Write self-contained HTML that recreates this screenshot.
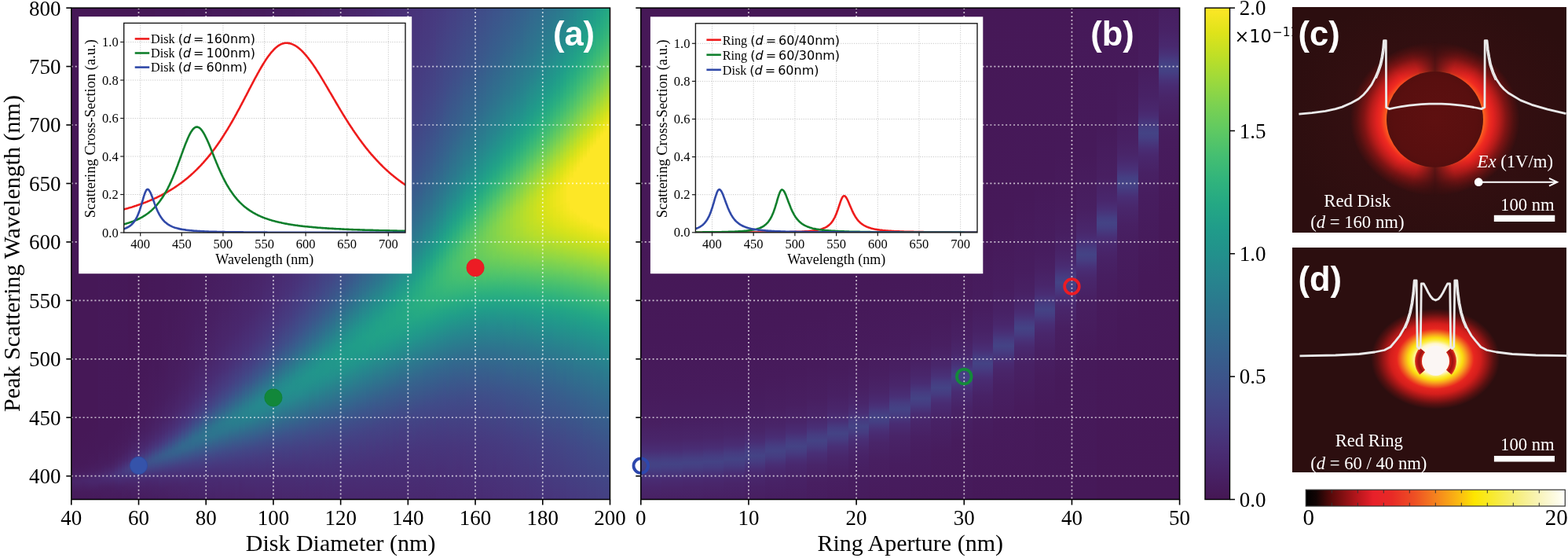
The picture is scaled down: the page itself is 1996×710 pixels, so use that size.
<!DOCTYPE html>
<html><head><meta charset="utf-8"><style>
html,body{margin:0;padding:0;background:#fff;}
#root{position:relative;width:1996px;height:710px;overflow:hidden;background:#fff;}
.hm{position:absolute;left:0;width:1996px;}
.hm div{position:absolute;top:0;height:100%;}
</style></head><body><div id="root">
<div class="hm" style="top:10.1px;height:625.4px"><div style="left:90.80px;width:4.86px;background:linear-gradient(#461857 0.00%,#461857 87.62%,#461a5a 93.33%,#471d5f 94.76%,#492569 96.43%,#471c5d 98.57%,#461a5a 100.00%)"></div><div style="left:95.06px;width:4.86px;background:linear-gradient(#461857 0.00%,#461857 87.38%,#461959 91.90%,#471b5c 93.81%,#492569 96.19%,#492569 96.67%,#471c5d 98.57%,#461a5a 100.00%)"></div><div style="left:99.32px;width:4.86px;background:linear-gradient(#461857 0.00%,#461857 87.14%,#461a5a 93.10%,#471d5f 94.52%,#492569 96.19%,#492569 96.67%,#471c5d 98.57%,#461a5a 100.00%)"></div><div style="left:103.58px;width:4.86px;background:linear-gradient(#461857 0.00%,#461857 86.67%,#461a5a 92.86%,#471c5d 94.05%,#49266b 96.19%,#471c5d 98.57%,#461a5a 100.00%)"></div><div style="left:107.84px;width:4.86px;background:linear-gradient(#461857 0.00%,#461857 86.19%,#461a5a 92.62%,#471e60 94.52%,#49266b 95.95%,#49266b 96.43%,#471c5d 98.57%,#461a5a 100.00%)"></div><div style="left:112.10px;width:4.86px;background:linear-gradient(#461857 0.00%,#461857 85.48%,#461959 90.71%,#471b5c 93.10%,#471d5f 94.05%,#49276c 95.95%,#49276c 96.43%,#471c5d 98.57%,#461a5a 100.00%)"></div><div style="left:116.35px;width:4.86px;background:linear-gradient(#461857 0.00%,#461857 84.76%,#461959 90.48%,#471b5c 92.86%,#482063 94.52%,#49276d 95.71%,#49266b 96.67%,#471d5f 98.33%,#461a5a 100.00%)"></div><div style="left:120.61px;width:4.86px;background:linear-gradient(#461857 0.00%,#461857 84.05%,#461a5a 91.67%,#471e60 93.81%,#49286e 95.71%,#49266b 96.67%,#471d5f 98.33%,#461a5a 100.00%)"></div><div style="left:124.87px;width:4.86px;background:linear-gradient(#461857 0.00%,#461959 89.52%,#471d5f 93.10%,#481f61 93.81%,#49296f 95.48%,#49276d 96.43%,#482164 97.38%,#471d5f 98.33%,#461a5a 100.00%)"></div><div style="left:129.13px;width:4.86px;background:linear-gradient(#461857 0.00%,#461959 89.05%,#471d5f 92.86%,#482367 94.29%,#49286e 95.00%,#492a71 95.48%,#492a71 95.95%,#482164 97.38%,#471d5f 98.33%,#471b5c 100.00%)"></div><div style="left:133.39px;width:4.86px;background:linear-gradient(#461857 0.00%,#461959 88.33%,#471b5c 91.43%,#471e60 92.86%,#492c73 95.48%,#49296f 96.19%,#482164 97.38%,#471e60 98.10%,#471b5c 100.00%)"></div><div style="left:137.65px;width:4.86px;background:linear-gradient(#461857 0.00%,#461959 87.62%,#471d5f 92.14%,#482164 93.33%,#492b72 94.76%,#492d74 95.24%,#492b72 95.95%,#482164 97.38%,#471e60 98.10%,#471b5c 100.00%)"></div><div style="left:141.91px;width:4.86px;background:linear-gradient(#461857 0.00%,#461959 86.90%,#471b5c 90.24%,#481f61 92.38%,#492569 93.57%,#492f76 95.00%,#492f76 95.48%,#492468 96.90%,#481f61 97.86%,#471b5c 100.00%)"></div><div style="left:146.17px;width:4.86px;background:linear-gradient(#461857 0.00%,#461959 85.95%,#471b5c 89.52%,#471e60 91.43%,#492569 93.10%,#492d74 94.05%,#483279 94.76%,#483279 95.24%,#482367 97.14%,#471e60 98.33%,#471b5c 100.00%)"></div><div style="left:150.43px;width:4.86px;background:linear-gradient(#461857 0.00%,#461959 84.76%,#471b5c 88.81%,#481f61 91.19%,#49276c 92.86%,#483279 94.05%,#48367c 94.76%,#492f76 95.71%,#482266 97.38%,#471d5f 98.81%,#471b5c 100.00%)"></div><div style="left:154.69px;width:4.86px;background:linear-gradient(#461857 0.00%,#461959 83.33%,#471b5c 87.86%,#481f61 90.48%,#49266b 92.14%,#48337a 93.57%,#47397f 94.29%,#47377d 95.00%,#492c73 95.95%,#482164 97.62%,#471c5d 100.00%)"></div><div style="left:158.94px;width:4.86px;background:linear-gradient(#461857 0.00%,#461959 82.14%,#471c5d 88.10%,#482063 90.24%,#49276d 91.90%,#47397f 93.57%,#463d81 94.05%,#463c81 94.52%,#47387e 95.00%,#492c73 95.95%,#492569 96.90%,#481f61 98.33%,#471c5d 100.00%)"></div><div style="left:163.20px;width:4.86px;background:linear-gradient(#461857 0.00%,#461857 66.43%,#461a5a 84.29%,#471c5d 87.14%,#482063 89.52%,#49276c 91.19%,#492e75 92.14%,#473a7f 93.10%,#454083 93.81%,#453f83 94.29%,#463b80 94.76%,#492c73 95.95%,#492468 97.14%,#471e60 98.81%,#471c5d 100.00%)"></div><div style="left:167.46px;width:4.86px;background:linear-gradient(#461857 0.00%,#461857 63.57%,#461a5a 83.10%,#471e60 87.86%,#492569 90.24%,#492c73 91.43%,#463b80 92.62%,#444184 93.10%,#434485 93.57%,#444385 94.05%,#463e82 94.52%,#492e75 95.71%,#49276c 96.67%,#482164 97.86%,#471d5f 100.00%)"></div><div style="left:171.72px;width:4.86px;background:linear-gradient(#461857 0.00%,#461857 60.48%,#461959 77.86%,#471b5c 84.05%,#471e60 87.14%,#482164 88.57%,#49276d 90.24%,#493178 91.43%,#463b80 92.14%,#424787 93.10%,#434686 93.81%,#48337a 95.24%,#49276c 96.67%,#481f61 98.57%,#471d5f 100.00%)"></div><div style="left:175.98px;width:4.86px;background:linear-gradient(#461857 0.00%,#461857 57.38%,#461959 76.43%,#471b5c 83.10%,#471e60 86.43%,#49276c 89.52%,#493178 90.95%,#463e82 91.90%,#414a88 92.86%,#414a88 93.33%,#454083 94.29%,#493077 95.48%,#49296f 96.19%,#482063 98.33%,#471d5f 100.00%)"></div><div style="left:180.24px;width:4.86px;background:linear-gradient(#461857 0.00%,#461857 53.33%,#461959 74.76%,#471b5c 82.14%,#471e60 85.71%,#482266 87.62%,#49296f 89.52%,#493178 90.48%,#444184 91.67%,#424887 92.14%,#3f4d89 92.86%,#404b88 93.33%,#444284 94.05%,#492f76 95.48%,#49296f 96.19%,#482063 98.33%,#471d5f 100.00%)"></div><div style="left:184.50px;width:4.86px;background:linear-gradient(#461857 0.00%,#461857 47.14%,#461959 73.10%,#471b5c 81.19%,#482063 86.19%,#49286e 88.81%,#48367c 90.48%,#434485 91.43%,#404b88 91.90%,#3f4f8a 92.38%,#3f4f8a 92.86%,#424887 93.57%,#493178 95.24%,#49276d 96.43%,#482164 98.10%,#471d5f 100.00%)"></div><div style="left:188.76px;width:4.86px;background:linear-gradient(#461857 0.00%,#461959 70.71%,#471c5d 81.90%,#482164 85.95%,#49276c 87.86%,#493178 89.52%,#453f83 90.71%,#424787 91.19%,#3f4e89 91.67%,#3d528b 92.14%,#3e518a 92.62%,#3f4d89 93.10%,#444385 93.81%,#48337a 95.00%,#49276d 96.43%,#482063 98.57%,#471e60 100.00%)"></div><div style="left:193.02px;width:4.86px;background:linear-gradient(#461857 0.00%,#461959 68.33%,#471c5d 80.71%,#482063 84.52%,#492569 86.67%,#49296f 87.86%,#48367c 89.52%,#3f4e89 91.19%,#3c548b 91.90%,#3d538b 92.38%,#414988 93.33%,#483279 95.00%,#492a71 95.95%,#482367 97.62%,#471e60 100.00%)"></div><div style="left:197.28px;width:4.86px;background:linear-gradient(#461959 0.00%,#461959 65.24%,#461a5a 73.57%,#471d5f 81.19%,#492468 85.71%,#492b72 87.62%,#48367c 89.05%,#414a88 90.48%,#3c548b 91.19%,#3b578c 91.67%,#3c548b 92.38%,#434485 93.57%,#48347b 94.76%,#492a71 95.95%,#492468 97.38%,#471e60 100.00%)"></div><div style="left:201.53px;width:4.86px;background:linear-gradient(#461959 0.00%,#461959 61.67%,#461a5a 71.67%,#471d5f 80.00%,#482164 83.57%,#49296f 86.67%,#48347b 88.33%,#444284 89.52%,#3f4d89 90.24%,#3b578c 90.95%,#3a598c 91.43%,#3b568b 92.14%,#434686 93.33%,#48367c 94.52%,#492f76 95.24%,#482266 98.10%,#481f61 100.00%)"></div><div style="left:205.79px;width:4.86px;background:linear-gradient(#461959 0.00%,#461959 57.62%,#471b5c 74.29%,#471e60 80.24%,#482367 83.81%,#492b72 86.43%,#493178 87.38%,#463c81 88.57%,#3f4d89 89.76%,#3b578c 90.48%,#395b8c 90.95%,#395a8c 91.67%,#404b88 92.86%,#48357b 94.52%,#492d74 95.48%,#482367 97.86%,#481f61 100.00%)"></div><div style="left:210.05px;width:4.86px;background:linear-gradient(#461959 0.00%,#461959 52.62%,#471b5c 72.62%,#471e60 79.05%,#492569 83.81%,#492d74 86.19%,#473a7f 87.86%,#444284 88.57%,#3f4d89 89.29%,#395a8c 90.24%,#375e8d 90.95%,#3b578c 91.90%,#3f4d89 92.62%,#463c81 93.81%,#492d74 95.48%,#492468 97.62%,#481f61 100.00%)"></div><div style="left:214.31px;width:4.86px;background:linear-gradient(#461959 0.00%,#461a5a 64.76%,#471e60 77.86%,#482367 82.14%,#49276c 83.81%,#492e75 85.71%,#47387e 87.14%,#3f4d89 88.81%,#385d8d 90.00%,#36608d 90.48%,#395b8c 91.43%,#404b88 92.62%,#463b80 93.81%,#493077 95.00%,#492569 97.38%,#482063 100.00%)"></div><div style="left:218.57px;width:4.86px;background:linear-gradient(#461959 0.00%,#461a5a 61.90%,#471e60 76.90%,#482266 80.71%,#49276c 83.10%,#493077 85.48%,#463b80 86.90%,#3f4d89 88.33%,#375e8d 89.52%,#35628d 90.24%,#375f8d 90.95%,#3e508a 92.14%,#473a7f 93.81%,#492e75 95.24%,#49266b 97.14%,#482063 100.00%)"></div><div style="left:222.83px;width:4.86px;background:linear-gradient(#461959 0.00%,#461a5a 59.05%,#471c5d 71.19%,#482063 78.10%,#49266b 81.90%,#493178 85.00%,#463e82 86.67%,#395b8c 88.81%,#35648d 89.76%,#35628d 90.48%,#375e8d 90.95%,#404b88 92.38%,#463e82 93.33%,#493178 94.76%,#49276c 96.90%,#482063 100.00%)"></div><div style="left:227.09px;width:4.86px;background:linear-gradient(#461959 0.00%,#461a5a 55.24%,#471c5d 69.29%,#482063 76.90%,#49276c 81.43%,#483279 84.52%,#453f83 86.19%,#3f4e89 87.38%,#375f8d 88.57%,#34668e 89.52%,#35628d 90.48%,#3d538b 91.67%,#463d81 93.33%,#493178 94.76%,#492569 97.62%,#482164 100.00%)"></div><div style="left:231.35px;width:4.86px;background:linear-gradient(#461959 0.00%,#461a5a 50.95%,#471c5d 67.14%,#482063 75.71%,#49276d 80.95%,#483279 83.81%,#463e82 85.48%,#3d528b 87.14%,#34658e 88.57%,#33688e 89.05%,#33688e 89.52%,#35638d 90.24%,#414a88 92.14%,#463c81 93.33%,#48347b 94.29%,#49266b 97.38%,#482164 100.00%)"></div><div style="left:235.61px;width:4.86px;background:linear-gradient(#461a5a 0.00%,#471b5c 59.05%,#471d5f 68.57%,#482164 75.48%,#49276d 80.00%,#493178 82.86%,#47387e 84.05%,#444284 85.24%,#3d538b 86.67%,#34668e 88.10%,#32698e 88.81%,#33688e 89.52%,#35648d 90.00%,#3d528b 91.43%,#454083 92.86%,#483279 94.52%,#49276c 97.14%,#482164 100.00%)"></div><div style="left:239.87px;width:4.86px;background:linear-gradient(#461a5a 0.00%,#471b5c 55.71%,#471d5f 66.67%,#482266 75.24%,#492a71 80.24%,#48357b 82.86%,#444184 84.52%,#3e518a 85.95%,#33678e 87.62%,#316b8e 88.33%,#32688e 89.29%,#34658e 89.76%,#414a88 91.90%,#453f83 92.86%,#48357b 94.05%,#49276d 96.90%,#482266 100.00%)"></div><div style="left:244.12px;width:4.86px;background:linear-gradient(#461a5a 0.00%,#471b5c 52.38%,#471d5f 64.52%,#482164 72.86%,#49276d 78.10%,#492c73 80.00%,#48347b 81.90%,#463b80 83.10%,#3f4d89 85.00%,#33688e 87.14%,#306d8e 88.10%,#316b8e 88.81%,#34668e 89.52%,#3e518a 91.19%,#454083 92.62%,#48337a 94.29%,#49286e 96.67%,#482266 100.00%)"></div><div style="left:248.38px;width:4.86px;background:linear-gradient(#461a5a 0.00%,#471b5c 48.57%,#471d5f 62.38%,#482266 72.62%,#492a71 78.33%,#48337a 80.95%,#434485 83.57%,#3b578c 85.24%,#32688e 86.67%,#306e8e 87.38%,#306e8e 88.10%,#32688e 89.05%,#3d528b 90.95%,#453f83 92.62%,#493077 94.76%,#49296f 96.43%,#482266 100.00%)"></div><div style="left:252.64px;width:4.86px;background:linear-gradient(#461a5a 0.00%,#471c5d 54.76%,#471e60 64.05%,#482266 71.43%,#492b72 77.86%,#47387e 81.19%,#414a88 83.57%,#3c558b 84.52%,#32698e 86.19%,#2f708e 87.14%,#306d8e 88.33%,#32698e 88.81%,#3b568b 90.48%,#434586 91.90%,#48347b 94.05%,#49276d 97.14%,#482367 100.00%)"></div><div style="left:256.90px;width:4.86px;background:linear-gradient(#461a5a 0.00%,#471c5d 52.38%,#481f61 65.00%,#492569 73.10%,#492c73 77.38%,#47387e 80.48%,#444184 81.90%,#3e518a 83.57%,#316a8e 85.71%,#2e728e 86.90%,#2f718e 87.62%,#316c8e 88.33%,#3c548b 90.48%,#434686 91.67%,#48357b 93.81%,#492a71 96.19%,#482367 100.00%)"></div><div style="left:261.16px;width:4.86px;background:linear-gradient(#461a5a 0.00%,#471d5f 56.43%,#482063 65.71%,#49266b 72.86%,#492d74 76.90%,#47387e 79.76%,#434485 81.67%,#3d528b 83.10%,#306d8e 85.48%,#2d748e 86.67%,#2e728e 87.38%,#32688e 88.57%,#3d528b 90.48%,#424787 91.43%,#48367c 93.57%,#49286e 96.90%,#482367 100.00%)"></div><div style="left:265.42px;width:4.86px;background:linear-gradient(#461a5a 0.00%,#471d5f 54.52%,#482063 64.29%,#492569 70.95%,#492c73 75.71%,#47397f 79.29%,#424787 81.43%,#3d538b 82.62%,#2f708e 85.24%,#2d748e 86.19%,#2e738e 87.14%,#316b8e 88.10%,#3d538b 90.24%,#424887 91.19%,#463c81 92.62%,#48337a 94.05%,#492b72 95.95%,#482367 100.00%)"></div><div style="left:269.68px;width:4.86px;background:linear-gradient(#471b5c 0.00%,#471b5c 31.90%,#471d5f 52.62%,#482063 62.86%,#492569 70.00%,#492d74 75.24%,#473a7f 78.81%,#424887 80.95%,#3a598c 82.62%,#2e738e 85.00%,#2c768e 85.95%,#2d748e 86.90%,#306e8e 87.62%,#3e518a 90.24%,#463d81 92.38%,#48347b 93.81%,#492b72 95.95%,#482367 100.00%)"></div><div style="left:273.94px;width:4.86px;background:linear-gradient(#471b5c 0.00%,#471b5c 28.57%,#471d5f 50.71%,#482063 61.67%,#49266b 69.76%,#492c73 74.05%,#473a7f 78.10%,#404b88 80.71%,#2f6f8e 84.05%,#2c778e 85.24%,#2d758e 86.43%,#2f6f8e 87.38%,#385d8d 89.05%,#414a88 90.71%,#463e82 92.14%,#48357b 93.57%,#492b72 95.95%,#492468 100.00%)"></div><div style="left:278.20px;width:4.86px;background:linear-gradient(#471b5c 0.00%,#471d5f 48.57%,#482063 60.24%,#49266b 68.81%,#492e75 74.05%,#463b80 77.62%,#414a88 80.00%,#3a588c 81.43%,#2e728e 83.81%,#2c778e 84.52%,#2b798e 85.24%,#2d748e 86.67%,#3d538b 89.76%,#453f83 91.90%,#48367c 93.33%,#49296f 96.67%,#492468 100.00%)"></div><div style="left:282.46px;width:4.86px;background:linear-gradient(#471b5c 0.00%,#471d5f 46.67%,#482063 58.81%,#49276c 68.57%,#492f76 73.57%,#463c81 77.14%,#404b88 79.52%,#3a588c 80.95%,#2d748e 83.57%,#2b7a8e 84.52%,#2c778e 85.95%,#2f708e 86.90%,#385c8c 88.81%,#414a88 90.48%,#47377d 93.10%,#492c73 95.71%,#492468 100.00%)"></div><div style="left:286.71px;width:4.86px;background:linear-gradient(#471b5c 0.00%,#471d5f 44.52%,#482164 59.76%,#49276c 67.62%,#493178 73.57%,#463e82 76.90%,#404c89 79.05%,#385c8c 80.71%,#2e738e 82.86%,#2a7c8e 84.29%,#2c788e 85.71%,#2f718e 86.67%,#404b88 90.24%,#47387e 92.86%,#492c73 95.71%,#492468 100.00%)"></div><div style="left:290.97px;width:4.86px;background:linear-gradient(#471b5c 0.00%,#471e60 48.57%,#482164 58.33%,#49276c 66.67%,#493077 72.38%,#453f83 76.43%,#404b88 78.33%,#3a588c 79.76%,#2d758e 82.62%,#2a7d8e 83.81%,#2a7d8e 84.52%,#2c778e 85.71%,#3b568b 89.05%,#434485 90.95%,#47397f 92.62%,#492c73 95.71%,#492468 100.00%)"></div><div style="left:295.23px;width:4.86px;background:linear-gradient(#471b5c 0.00%,#471e60 46.67%,#482266 59.05%,#49276d 66.43%,#483279 72.38%,#454083 75.95%,#404c89 77.86%,#3a588c 79.29%,#2c788e 82.38%,#297f8e 83.81%,#2a7b8e 85.00%,#2e728e 86.19%,#3f4f8a 89.52%,#473a7f 92.38%,#492c73 95.71%,#492468 100.00%)"></div><div style="left:299.49px;width:4.86px;background:linear-gradient(#471b5c 0.00%,#471e60 45.00%,#482266 57.86%,#49276d 65.48%,#493178 71.19%,#444184 75.48%,#3f4d89 77.38%,#385c8c 79.05%,#2c768e 81.67%,#297f8e 83.10%,#297f8e 83.81%,#2a7c8e 84.76%,#2e738e 85.95%,#395a8c 88.33%,#434686 90.48%,#463b80 92.14%,#492d74 95.48%,#492569 100.00%)"></div><div style="left:303.75px;width:4.86px;background:linear-gradient(#471b5c 0.00%,#471e60 43.10%,#482164 54.29%,#49276d 64.52%,#493077 70.00%,#48367c 72.14%,#444284 75.00%,#3f4e89 76.90%,#385c8c 78.57%,#2b798e 81.43%,#297f8e 82.14%,#28818e 83.10%,#2a7b8e 84.76%,#395b8c 88.10%,#424787 90.24%,#47387e 92.62%,#49296f 96.90%,#492569 100.00%)"></div><div style="left:308.01px;width:4.86px;background:linear-gradient(#471c5d 0.00%,#471c5d 21.90%,#471e60 41.19%,#482266 55.24%,#49286e 64.29%,#483279 70.00%,#444385 74.52%,#3f4d89 76.19%,#35628d 78.57%,#2a7c8e 81.19%,#28828e 82.38%,#28828e 83.10%,#297f8e 84.05%,#2d748e 85.48%,#3b578c 88.33%,#434686 90.24%,#47397f 92.38%,#492b72 96.19%,#492569 100.00%)"></div><div style="left:312.27px;width:4.86px;background:linear-gradient(#471c5d 0.00%,#471c5d 19.05%,#481f61 44.52%,#482367 55.95%,#49286e 63.33%,#493178 68.81%,#47377d 70.95%,#434485 74.05%,#3f4e89 75.71%,#35638d 78.10%,#2b7a8e 80.48%,#27838e 81.90%,#27838e 82.86%,#297e8e 84.05%,#3a588c 88.10%,#424787 90.00%,#463b80 91.90%,#492f76 94.76%,#492569 100.00%)"></div><div style="left:316.53px;width:4.86px;background:linear-gradient(#471c5d 0.00%,#471c5d 15.95%,#481f61 42.62%,#482367 54.52%,#49286e 62.38%,#48337a 68.81%,#453f83 72.38%,#434686 73.81%,#3b568b 76.19%,#2a7d8e 80.24%,#27838e 81.19%,#27858e 81.90%,#27848e 82.62%,#2a7d8e 84.05%,#395b8c 87.62%,#424887 89.76%,#463c81 91.67%,#492f76 94.76%,#492569 100.00%)"></div><div style="left:320.79px;width:4.86px;background:linear-gradient(#471c5d 0.00%,#481f61 40.95%,#482367 53.33%,#49296f 62.14%,#493178 67.14%,#444184 72.14%,#3b578c 75.71%,#2b798e 79.29%,#28828e 80.48%,#26868e 81.43%,#27848e 82.62%,#28808e 83.33%,#2c778e 84.52%,#375e8d 87.14%,#424787 89.76%,#463e82 91.19%,#492f76 94.76%,#492569 100.00%)"></div><div style="left:325.05px;width:4.86px;background:linear-gradient(#471c5d 0.00%,#481f61 39.05%,#482367 51.90%,#49296f 61.19%,#48337a 67.14%,#444284 71.67%,#3b568b 75.00%,#297e8e 79.29%,#27838e 80.00%,#26878e 80.95%,#26878e 81.67%,#28828e 82.86%,#2d758e 84.52%,#3a588c 87.62%,#424887 89.52%,#473a7f 91.90%,#492d74 95.48%,#49266b 100.00%)"></div><div style="left:329.30px;width:4.86px;background:linear-gradient(#471c5d 0.00%,#481f61 37.14%,#492468 52.62%,#49296f 60.24%,#48357b 67.14%,#444385 71.19%,#3b578c 74.52%,#2b7a8e 78.33%,#27858e 79.76%,#25888e 80.48%,#25888e 81.43%,#28818e 82.86%,#35648d 86.19%,#3f4e89 88.57%,#463c81 91.43%,#492d74 95.48%,#49266b 100.00%)"></div><div style="left:333.56px;width:4.86px;background:linear-gradient(#471c5d 0.00%,#471e60 28.57%,#482164 43.81%,#49266b 54.52%,#492d74 62.14%,#473a7f 68.10%,#414a88 71.90%,#3a588c 74.05%,#33678e 75.71%,#2a7d8e 78.10%,#25898e 80.00%,#25888e 81.43%,#27838e 82.38%,#2c788e 83.81%,#3a598c 87.14%,#3f4d89 88.57%,#463e82 90.95%,#492d74 95.48%,#49266b 100.00%)"></div><div style="left:337.82px;width:4.86px;background:linear-gradient(#471d5f 0.00%,#471d5f 15.95%,#482164 42.14%,#49266b 53.33%,#492e75 61.90%,#47387e 66.67%,#453f83 68.81%,#404b88 71.43%,#3a598c 73.57%,#32698e 75.48%,#28818e 78.10%,#258a8e 79.52%,#258a8e 80.71%,#27838e 82.14%,#2c768e 83.81%,#3c558b 87.38%,#434485 89.76%,#473a7f 91.67%,#492d74 95.48%,#49266b 100.00%)"></div><div style="left:342.08px;width:4.86px;background:linear-gradient(#471d5f 0.00%,#471e60 23.81%,#482164 40.48%,#49276c 53.57%,#492e75 60.95%,#47377d 65.48%,#434686 69.76%,#395a8c 73.10%,#297e8e 77.14%,#26878e 78.33%,#248a8d 79.29%,#258a8e 80.71%,#27858e 81.67%,#2c768e 83.57%,#395a8c 86.67%,#404b88 88.57%,#463d81 90.95%,#492d74 95.48%,#49266b 100.00%)"></div><div style="left:346.34px;width:4.86px;background:linear-gradient(#471d5f 0.00%,#471e60 21.19%,#482164 38.57%,#49266b 50.71%,#492e75 60.00%,#47387e 65.00%,#434686 69.05%,#395b8c 72.62%,#28828e 77.14%,#248b8d 78.81%,#248b8d 80.00%,#28808e 82.14%,#33688e 85.00%,#3f4f8a 87.86%,#453f83 90.48%,#48347b 93.10%,#492d74 95.48%,#49266b 100.00%)"></div><div style="left:350.60px;width:4.86px;background:linear-gradient(#471d5f 0.00%,#482164 36.90%,#49276c 50.95%,#492e75 59.05%,#47377d 63.81%,#434686 68.33%,#385c8c 72.14%,#25888e 77.38%,#248c8d 78.57%,#248c8d 79.52%,#26878e 80.95%,#306e8e 84.05%,#3d538b 87.14%,#444284 89.76%,#473a7f 91.43%,#492d74 95.48%,#49266b 100.00%)"></div><div style="left:354.86px;width:4.86px;background:linear-gradient(#471d5f 0.00%,#482266 38.57%,#49276d 51.19%,#493077 59.29%,#463c81 64.76%,#3f4d89 69.05%,#375f8d 71.90%,#26878e 76.67%,#238d8d 78.10%,#238d8d 79.05%,#26878e 80.71%,#385c8c 85.95%,#3f4d89 87.86%,#463e82 90.48%,#493077 94.29%,#49266b 100.00%)"></div><div style="left:359.12px;width:4.86px;background:linear-gradient(#471e60 0.00%,#471e60 12.62%,#482266 36.67%,#49276c 48.33%,#493077 58.33%,#463d81 64.29%,#3f4e89 68.57%,#36608d 71.43%,#25898e 76.43%,#238e8d 77.86%,#238d8d 79.05%,#26878e 80.48%,#375e8d 85.48%,#3f4f8a 87.38%,#444184 89.76%,#493077 94.29%,#49276c 100.00%)"></div><div style="left:363.38px;width:4.86px;background:linear-gradient(#471e60 0.00%,#481f61 18.81%,#482367 38.10%,#49286e 49.76%,#483279 58.57%,#463e82 63.81%,#3f4e89 67.86%,#35638d 71.19%,#25888e 75.71%,#238f8d 77.38%,#238e8d 78.57%,#26878e 80.24%,#385d8d 85.48%,#3d538b 86.67%,#444385 89.29%,#493077 94.29%,#49276c 100.00%)"></div><div style="left:367.64px;width:4.86px;background:linear-gradient(#471e60 0.00%,#482063 23.10%,#482367 36.19%,#49296f 49.76%,#493178 56.90%,#463d81 62.62%,#3f4e89 67.14%,#34668e 70.95%,#26878e 75.00%,#248b8d 75.71%,#23908d 77.14%,#238f8d 78.10%,#26878e 80.00%,#3b578c 85.95%,#453f83 90.00%,#493077 94.29%,#49276c 100.00%)"></div><div style="left:371.89px;width:4.86px;background:linear-gradient(#471e60 0.00%,#482367 34.29%,#49286e 47.14%,#48337a 57.14%,#444184 63.10%,#3f4d89 66.19%,#385d8d 69.05%,#248a8d 75.00%,#23908d 76.19%,#23908d 77.62%,#26878e 79.76%,#385c8c 85.24%,#3e518a 86.67%,#444284 89.29%,#47387e 91.67%,#493077 94.29%,#49276c 100.00%)"></div><div style="left:376.15px;width:4.86px;background:linear-gradient(#481f61 0.00%,#482063 17.38%,#492468 35.48%,#49296f 47.14%,#493178 54.76%,#463c81 60.48%,#404c89 65.24%,#3b578c 67.38%,#316a8e 70.24%,#258a8e 74.29%,#22918c 75.95%,#238f8d 77.86%,#258a8e 79.05%,#35648d 84.05%,#3d538b 86.19%,#434586 88.57%,#483279 93.57%,#49276c 100.00%)"></div><div style="left:380.41px;width:4.86px;background:linear-gradient(#481f61 0.00%,#482063 14.52%,#492468 33.33%,#49296f 45.71%,#48337a 55.00%,#453f83 60.71%,#3d538b 65.95%,#34668e 69.05%,#25898e 73.57%,#22928c 75.71%,#23908d 77.38%,#258a8e 78.81%,#36608d 84.29%,#3f4f8a 86.67%,#444184 89.29%,#483279 93.57%,#49276c 100.00%)"></div><div style="left:384.67px;width:4.86px;background:linear-gradient(#481f61 0.00%,#492569 34.29%,#492b72 46.90%,#48347b 54.52%,#444385 61.19%,#3d528b 65.00%,#32688e 68.81%,#248c8d 73.57%,#22938c 75.48%,#22918c 76.90%,#25888e 78.81%,#375f8d 84.29%,#434485 88.57%,#473a7f 90.95%,#483279 93.57%,#49276d 100.00%)"></div><div style="left:388.93px;width:4.86px;background:linear-gradient(#482063 0.00%,#482164 15.24%,#492569 32.38%,#492b72 45.48%,#48357b 54.05%,#454083 59.29%,#3e518a 64.05%,#35628d 67.14%,#2d748e 69.76%,#248b8d 72.86%,#22938c 74.52%,#22938c 75.95%,#238d8d 77.62%,#27838e 79.29%,#316b8e 82.38%,#404c89 86.90%,#47397f 91.19%,#492b72 96.90%,#49276d 100.00%)"></div><div style="left:393.19px;width:4.86px;background:linear-gradient(#482063 0.00%,#482266 18.33%,#49266b 33.10%,#492b72 44.05%,#48347b 52.38%,#434485 59.76%,#3b578c 64.52%,#306e8e 68.33%,#248a8d 72.14%,#21948c 74.29%,#22928c 76.19%,#248a8d 77.86%,#395a8c 84.52%,#414a88 87.14%,#463e82 89.76%,#483279 93.57%,#49276d 100.00%)"></div><div style="left:397.45px;width:4.86px;background:linear-gradient(#482063 0.00%,#482367 20.48%,#49276d 35.95%,#492e75 46.19%,#48357b 51.90%,#463d81 56.19%,#434686 59.52%,#3b568b 63.57%,#316a8e 67.14%,#248b8d 71.67%,#21958c 74.05%,#22938c 75.71%,#248a8d 77.62%,#385c8c 84.05%,#424787 87.62%,#463c81 90.24%,#483279 93.57%,#49276d 100.00%)"></div><div style="left:401.71px;width:4.86px;background:linear-gradient(#482164 0.00%,#482367 17.86%,#49276d 34.05%,#492e75 44.76%,#48367c 51.43%,#444184 56.90%,#3c558b 62.62%,#306d8e 66.90%,#23908d 71.90%,#21968b 73.81%,#21948c 75.24%,#238e8d 76.67%,#26868e 78.10%,#35628d 83.10%,#414a88 86.90%,#463b80 90.48%,#493178 94.05%,#49276d 100.00%)"></div><div style="left:405.97px;width:4.86px;background:linear-gradient(#482164 0.00%,#492468 20.00%,#49276d 32.14%,#492f76 44.52%,#47377d 50.95%,#424787 58.10%,#395b8c 63.10%,#2f708e 66.67%,#238e8d 70.95%,#21968b 72.86%,#21948c 75.00%,#248b8d 76.90%,#2f718e 80.71%,#3c558b 84.76%,#463e82 89.52%,#483279 93.57%,#49276d 100.00%)"></div><div style="left:410.23px;width:4.86px;background:linear-gradient(#482266 0.00%,#492468 17.38%,#49286e 32.62%,#492f76 43.10%,#47387e 50.48%,#414988 57.86%,#395a8c 62.14%,#306e8e 65.71%,#23908d 70.71%,#21968b 72.62%,#21958c 74.52%,#248b8d 76.67%,#306e8e 80.95%,#3c548b 84.76%,#463d81 89.76%,#492e75 95.48%,#49286e 100.00%)"></div><div style="left:414.48px;width:4.86px;background:linear-gradient(#482266 0.00%,#492569 19.05%,#49296f 32.86%,#493077 42.86%,#47387e 49.29%,#454083 53.57%,#3e518a 59.29%,#35638d 63.10%,#297e8e 67.38%,#22918c 70.24%,#21978b 72.38%,#21968b 74.05%,#238f8d 75.71%,#35638d 82.38%,#3d538b 84.76%,#454083 88.81%,#48337a 93.10%,#49286e 100.00%)"></div><div style="left:418.74px;width:4.86px;background:linear-gradient(#482367 0.00%,#492468 11.90%,#49296f 30.95%,#493077 41.43%,#47397f 48.81%,#424887 55.71%,#375e8d 61.43%,#2d748e 65.24%,#238f8d 69.29%,#21978b 71.43%,#21978b 72.86%,#23908d 75.24%,#2c768e 79.29%,#3a598c 83.57%,#404c89 85.95%,#463e82 89.29%,#492e75 95.48%,#49286e 100.00%)"></div><div style="left:423.00px;width:4.86px;background:linear-gradient(#482367 0.00%,#49266b 17.86%,#492a71 31.19%,#483279 42.14%,#473a7f 48.33%,#414a88 55.48%,#385c8c 60.24%,#2f6f8e 63.81%,#22918c 69.05%,#21988b 70.95%,#21968b 73.33%,#23908d 75.00%,#35638d 81.90%,#3e508a 85.00%,#444184 88.33%,#48347b 92.62%,#49286e 100.00%)"></div><div style="left:427.26px;width:4.86px;background:linear-gradient(#482367 0.00%,#49296f 27.38%,#493178 39.76%,#473a7f 47.14%,#444385 51.90%,#3e508a 56.43%,#34668e 61.43%,#22928c 68.57%,#20998a 70.71%,#21978b 72.86%,#22918c 74.52%,#2d748e 79.05%,#3c548b 84.05%,#453f83 88.81%,#48357b 92.14%,#492e75 95.48%,#49286e 100.00%)"></div><div style="left:431.52px;width:4.86px;background:linear-gradient(#492468 0.00%,#492a71 27.62%,#493178 38.33%,#463b80 46.67%,#434686 52.14%,#3d538b 56.43%,#316c8e 61.90%,#22938c 68.10%,#209a8a 70.48%,#20998a 71.90%,#22918c 74.29%,#2d748e 78.81%,#3b578c 83.33%,#444184 88.10%,#48337a 93.10%,#49286e 100.00%)"></div><div style="left:435.78px;width:4.86px;background:linear-gradient(#492468 0.00%,#492c73 29.52%,#48337a 39.05%,#463d81 46.67%,#424887 51.90%,#3a588c 56.90%,#316c8e 61.19%,#21948c 67.62%,#20998a 69.05%,#209b8a 70.24%,#21988b 72.14%,#22918c 74.05%,#34658e 80.95%,#3d528b 84.05%,#434485 87.14%,#48337a 92.86%,#49286e 100.00%)"></div><div style="left:440.04px;width:4.86px;background:linear-gradient(#492569 0.00%,#49276c 11.90%,#492c73 27.86%,#48337a 37.62%,#463e82 46.19%,#3f4e89 53.10%,#35638d 58.57%,#2a7d8e 63.33%,#22928c 66.67%,#209b8a 69.05%,#20998a 71.67%,#22928c 73.57%,#2c778e 77.86%,#3b568b 83.10%,#454083 88.10%,#493077 94.29%,#49286e 100.00%)"></div><div style="left:444.30px;width:4.86px;background:linear-gradient(#49266b 0.00%,#49276d 13.10%,#492d74 27.86%,#48347b 37.14%,#463e82 45.00%,#414a88 50.71%,#395a8c 55.71%,#2f6f8e 60.24%,#22938c 66.19%,#209c8a 68.81%,#209b8a 70.71%,#22938c 73.10%,#297f8e 76.43%,#34658e 80.48%,#3f4f8a 84.29%,#444284 87.38%,#47397f 90.24%,#492f76 94.76%,#49286e 100.00%)"></div><div style="left:448.56px;width:4.86px;background:linear-gradient(#49266b 0.00%,#49286e 14.05%,#492f76 29.29%,#47387e 39.52%,#454083 45.00%,#414a88 49.76%,#3b578c 54.05%,#2f6f8e 59.52%,#21948c 65.71%,#209d89 68.57%,#209a8a 70.95%,#22938c 72.86%,#33688e 79.76%,#3c548b 83.10%,#434586 86.43%,#47377d 90.95%,#492d74 95.95%,#49286e 100.00%)"></div><div style="left:452.82px;width:4.86px;background:linear-gradient(#49276c 0.00%,#49286e 11.43%,#492f76 27.62%,#47377d 37.14%,#454083 43.81%,#404c89 49.52%,#385d8d 54.76%,#306e8e 58.57%,#28808e 61.90%,#21968b 65.48%,#209d89 67.62%,#209d89 69.52%,#21948c 72.38%,#2a7d8e 76.19%,#36608d 80.71%,#414a88 85.00%,#444184 87.38%,#493178 93.57%,#49286e 100.00%)"></div><div style="left:457.07px;width:4.86px;background:linear-gradient(#49276c 0.00%,#492a71 15.24%,#493077 27.38%,#47397f 37.62%,#444284 43.81%,#3f4e89 49.29%,#395a8c 53.10%,#2e728e 58.57%,#248c8d 63.10%,#21968b 65.00%,#209e89 67.38%,#209d89 69.52%,#21958c 71.90%,#28828e 75.00%,#33688e 79.29%,#3d538b 82.86%,#444385 86.67%,#473a7f 89.52%,#493077 94.05%,#49286e 100.00%)"></div><div style="left:461.33px;width:4.86px;background:linear-gradient(#49276d 0.00%,#492a71 12.86%,#493178 27.14%,#47397f 36.19%,#444284 42.62%,#3f4d89 47.86%,#3a598c 51.90%,#2f718e 57.62%,#23908d 63.10%,#209c8a 65.71%,#209f89 66.90%,#209c8a 69.76%,#21958c 71.67%,#28808e 75.00%,#33688e 79.05%,#3d528b 82.86%,#434485 86.19%,#48337a 92.38%,#49286e 100.00%)"></div><div style="left:465.59px;width:4.86px;background:linear-gradient(#49286e 0.00%,#493077 23.81%,#47377d 32.86%,#444284 41.43%,#3f4f8a 47.62%,#375e8d 52.38%,#2f708e 56.67%,#26878e 60.95%,#20998a 64.29%,#21a088 66.90%,#209e89 68.81%,#21968b 71.19%,#27838e 74.29%,#316a8e 78.33%,#3b578c 81.67%,#434686 85.48%,#473a7f 89.29%,#493178 93.33%,#49286e 100.00%)"></div><div style="left:469.85px;width:4.86px;background:linear-gradient(#49286e 0.00%,#493178 23.57%,#473a7f 34.29%,#434586 41.90%,#3f4e89 46.19%,#385c8c 50.95%,#306e8e 55.48%,#22928c 62.14%,#209b8a 64.05%,#21a088 65.71%,#21a088 67.62%,#21968b 70.71%,#2a7d8e 75.00%,#385c8c 80.48%,#444284 86.43%,#47397f 89.52%,#493077 93.81%,#49286e 100.00%)"></div><div style="left:474.11px;width:4.86px;background:linear-gradient(#49296f 0.00%,#483279 23.33%,#463c81 34.52%,#434586 40.71%,#3e508a 45.95%,#35628d 51.67%,#2c768e 56.43%,#21968b 62.14%,#209f89 64.52%,#21a188 66.90%,#209d89 68.81%,#21978b 70.24%,#2d758e 75.95%,#3b578c 81.19%,#434485 85.71%,#483279 92.62%,#49286e 100.00%)"></div><div style="left:478.37px;width:4.86px;background:linear-gradient(#492a71 0.00%,#483279 21.43%,#47397f 30.24%,#434586 39.52%,#3f4e89 44.05%,#36608d 50.24%,#2d758e 55.48%,#21968b 61.67%,#21a088 64.05%,#21a287 66.43%,#21988b 69.76%,#2d758e 75.71%,#3b568b 81.19%,#434586 85.24%,#47397f 89.29%,#493178 93.10%,#49286e 100.00%)"></div><div style="left:482.63px;width:4.86px;background:linear-gradient(#492a71 0.00%,#48357b 24.05%,#463d81 32.62%,#424887 40.00%,#3d538b 45.00%,#375f8d 49.05%,#2b798e 55.48%,#21968b 60.95%,#21a287 64.05%,#21a387 65.71%,#209d89 68.33%,#238e8d 71.43%,#36608d 79.05%,#434686 84.76%,#48337a 91.90%,#49286e 100.00%)"></div><div style="left:486.89px;width:4.86px;background:linear-gradient(#492b72 0.00%,#48357b 22.38%,#463d81 31.19%,#424887 38.81%,#3c558b 44.76%,#35648d 49.52%,#2c778e 54.29%,#22938c 59.52%,#21a188 62.86%,#21a387 65.95%,#209e89 67.86%,#22928c 70.48%,#297f8e 73.57%,#35648d 78.10%,#424887 84.05%,#463c81 87.86%,#483279 92.38%,#49286e 100.00%)"></div><div style="left:491.15px;width:4.86px;background:linear-gradient(#492c73 0.00%,#493077 11.90%,#47377d 23.33%,#453f83 31.43%,#404b88 39.29%,#3c548b 43.33%,#35638d 48.33%,#2d758e 53.10%,#22938c 58.81%,#21a287 62.38%,#22a387 65.24%,#209e89 67.62%,#21968b 69.29%,#2c768e 74.76%,#395b8c 79.52%,#434485 85.00%,#48357b 90.71%,#49286e 100.00%)"></div><div style="left:495.41px;width:4.86px;background:linear-gradient(#492d74 0.00%,#493077 9.76%,#47377d 21.67%,#444184 31.67%,#404b88 38.10%,#3a588c 43.81%,#32698e 49.29%,#26868e 55.71%,#21968b 58.81%,#209f89 60.71%,#22a486 62.86%,#22a486 64.76%,#209f89 67.14%,#23908d 70.24%,#2b7a8e 73.81%,#36608d 78.33%,#434686 84.29%,#48337a 91.67%,#49286e 100.00%)"></div><div style="left:499.66px;width:4.86px;background:linear-gradient(#492e75 0.00%,#47377d 20.00%,#454083 29.52%,#404b88 36.90%,#3b578c 42.38%,#33688e 47.86%,#2a7c8e 52.86%,#21968b 58.10%,#22a387 61.43%,#22a586 64.29%,#209f89 66.90%,#21948c 69.29%,#2a7d8e 73.10%,#36608d 78.10%,#424787 83.81%,#463b80 87.86%,#483279 92.14%,#49286e 100.00%)"></div><div style="left:503.92px;width:4.86px;background:linear-gradient(#492e75 0.00%,#473a7f 22.14%,#444284 29.76%,#3f4f8a 37.86%,#33678e 46.67%,#297f8e 52.86%,#21968b 57.14%,#21a387 60.24%,#23a685 61.90%,#23a685 63.57%,#21a088 66.43%,#22928c 69.29%,#2a7b8e 73.10%,#36608d 77.86%,#424887 83.33%,#48357b 90.48%,#49286e 100.00%)"></div><div style="left:508.18px;width:4.86px;background:linear-gradient(#492f76 0.00%,#48347b 11.67%,#463b80 21.67%,#434586 30.71%,#3f4e89 36.19%,#3a588c 40.71%,#306d8e 47.62%,#28828e 52.62%,#21958c 56.19%,#22a486 60.00%,#23a785 63.10%,#21a188 65.95%,#22928c 69.05%,#316b8e 75.48%,#3a598c 79.05%,#414a88 82.62%,#463e82 86.43%,#48347b 90.95%,#49286e 100.00%)"></div><div style="left:512.44px;width:4.86px;background:linear-gradient(#493077 0.00%,#48357b 11.67%,#463d81 22.38%,#3f4e89 35.00%,#395a8c 40.48%,#316b8e 46.19%,#297f8e 51.19%,#21978b 55.95%,#23a685 59.76%,#24a884 62.86%,#21a387 65.24%,#22938c 68.57%,#297f8e 71.90%,#35648d 76.67%,#424787 83.33%,#463c81 87.14%,#48337a 91.43%,#49286e 100.00%)"></div><div style="left:516.70px;width:4.86px;background:linear-gradient(#493178 0.00%,#463c81 19.76%,#434586 28.10%,#3d528b 35.95%,#316a8e 45.00%,#2a7d8e 49.76%,#21968b 55.00%,#23a685 58.81%,#25a984 60.24%,#25a984 62.38%,#22a387 64.76%,#21948c 68.10%,#297f8e 71.67%,#35648d 76.43%,#424887 82.86%,#48357b 90.24%,#492c73 96.19%,#49296f 100.00%)"></div><div style="left:520.96px;width:4.86px;background:linear-gradient(#483279 0.00%,#48367c 9.76%,#463e82 20.48%,#434485 25.95%,#3e518a 34.29%,#385d8d 39.52%,#316a8e 44.05%,#297f8e 49.29%,#21988b 54.52%,#23a685 57.86%,#26ab82 60.95%,#22a586 64.05%,#209e89 65.71%,#21948c 67.86%,#297f8e 71.19%,#35648d 76.19%,#434686 83.33%,#463c81 86.90%,#483279 91.90%,#49296f 100.00%)"></div><div style="left:525.22px;width:4.86px;background:linear-gradient(#48337a 0.00%,#48367c 7.86%,#463e82 18.81%,#434686 26.19%,#3e518a 33.10%,#375e8d 38.81%,#316b8e 43.33%,#28808e 48.81%,#21968b 53.10%,#209e89 55.00%,#23a785 57.14%,#27ac82 59.29%,#27ac82 60.95%,#23a785 63.33%,#209e89 65.48%,#21958c 67.38%,#297f8e 70.95%,#35648d 75.95%,#424787 82.86%,#48347b 90.71%,#49296f 100.00%)"></div><div style="left:529.48px;width:4.86px;background:linear-gradient(#48347b 0.00%,#47387e 9.29%,#453f83 18.33%,#434686 24.76%,#3d528b 32.38%,#385c8c 36.90%,#306d8e 42.86%,#28808e 47.86%,#21968b 52.38%,#209f89 54.29%,#24a884 56.43%,#29ae81 59.52%,#25a984 62.62%,#209e89 65.24%,#21958c 67.14%,#28808e 70.48%,#35648d 75.71%,#414988 82.14%,#463b80 87.14%,#48347b 90.71%,#49296f 100.00%)"></div><div style="left:533.74px;width:4.86px;background:linear-gradient(#48347b 0.00%,#454083 17.86%,#434686 23.33%,#3c548b 32.14%,#375f8d 36.90%,#2f708e 42.62%,#297f8e 46.67%,#21978b 51.67%,#21a387 54.05%,#26ab82 56.19%,#2aae80 58.10%,#2aae80 60.00%,#26ab82 61.90%,#21a287 64.29%,#21968b 66.67%,#28808e 70.24%,#35648d 75.48%,#414a88 81.67%,#454083 85.00%,#48367c 89.52%,#492e75 94.76%,#49296f 100.00%)"></div><div style="left:538.00px;width:4.86px;background:linear-gradient(#48367c 0.00%,#463c81 11.43%,#434586 20.95%,#3f4f8a 28.10%,#385c8c 34.52%,#2d748e 42.62%,#26868e 47.14%,#209a8a 51.19%,#22a486 53.57%,#29ae81 55.95%,#2cb07f 59.05%,#25aa83 62.14%,#21a287 64.05%,#21968b 66.43%,#28818e 69.76%,#32688e 74.29%,#404b88 81.19%,#463e82 85.71%,#48367c 89.52%,#492e75 94.76%,#49296f 100.00%)"></div><div style="left:542.25px;width:4.86px;background:linear-gradient(#47377d 0.00%,#473a7f 6.67%,#444385 17.62%,#3f4d89 25.48%,#395b8c 32.86%,#2f718e 40.71%,#27838e 45.48%,#20998a 50.00%,#21a287 51.90%,#29ae81 54.76%,#2eb27d 57.14%,#2eb27d 58.33%,#28ad81 61.19%,#21a387 63.57%,#20998a 65.48%,#27848e 69.05%,#32688e 74.05%,#404c89 80.71%,#454083 84.76%,#48357b 90.00%,#49296f 100.00%)"></div><div style="left:546.51px;width:4.86px;background:linear-gradient(#47387e 0.00%,#463d81 9.05%,#434586 17.86%,#3f4d89 24.05%,#3a598c 30.71%,#32688e 36.90%,#2d758e 40.95%,#25888e 45.48%,#209a8a 49.29%,#22a586 51.67%,#2aae80 53.81%,#2fb37d 55.71%,#31b47c 57.38%,#2baf7f 60.24%,#21a387 63.33%,#209a8a 65.00%,#27858e 68.57%,#32688e 73.81%,#414a88 81.19%,#463d81 85.95%,#48357b 90.00%,#49296f 100.00%)"></div><div style="left:550.77px;width:4.86px;background:linear-gradient(#47397f 0.00%,#463e82 8.57%,#434686 17.14%,#3e508a 24.52%,#385d8d 31.19%,#2d748e 39.29%,#27858e 43.81%,#209b8a 48.33%,#23a785 50.95%,#2baf7f 52.86%,#32b57b 55.00%,#33b67a 56.90%,#2baf7f 60.24%,#23a785 62.14%,#209a8a 64.76%,#27858e 68.33%,#32688e 73.57%,#404b88 80.71%,#47377d 88.81%,#49296f 100.00%)"></div><div style="left:555.03px;width:4.86px;background:linear-gradient(#473a7f 0.00%,#424787 16.43%,#3c548b 25.48%,#36608d 31.19%,#306e8e 36.43%,#2a7b8e 40.24%,#238e8d 44.76%,#209c8a 47.62%,#22a586 49.52%,#31b47c 53.10%,#35b67a 54.29%,#36b779 56.43%,#2fb37d 59.05%,#23a685 62.14%,#209a8a 64.52%,#26868e 67.86%,#32688e 73.33%,#3f4d89 80.00%,#454083 84.52%,#47377d 88.81%,#492e75 95.00%,#492a71 100.00%)"></div><div style="left:559.29px;width:4.86px;background:linear-gradient(#463b80 0.00%,#424887 15.71%,#3e508a 21.67%,#375e8d 29.05%,#32688e 33.33%,#2c778e 38.10%,#248b8d 43.10%,#209d89 46.67%,#23a785 48.81%,#33b67a 52.38%,#39b977 54.29%,#39b977 55.95%,#2fb37d 59.05%,#22a586 62.14%,#209a8a 64.29%,#25898e 67.14%,#2f718e 71.43%,#36618d 74.76%,#3f4e89 79.52%,#444184 84.05%,#47377d 88.81%,#492f76 94.29%,#492a71 100.00%)"></div><div style="left:563.55px;width:4.86px;background:linear-gradient(#463c81 0.00%,#404c89 17.38%,#36618d 29.05%,#2d758e 36.43%,#25888e 41.19%,#209b8a 45.24%,#21a188 46.43%,#25aa83 48.33%,#36b779 51.67%,#3cbb75 53.57%,#3cbb75 55.48%,#35b67a 57.86%,#2aae80 60.00%,#22a586 61.90%,#209b8a 63.81%,#26868e 67.38%,#316c8e 72.14%,#3a588c 76.67%,#404c89 80.00%,#453f83 84.76%,#47377d 88.81%,#492e75 95.24%,#492a71 100.00%)"></div><div style="left:567.81px;width:4.86px;background:linear-gradient(#463e82 0.00%,#404b88 15.00%,#375f8d 26.90%,#316b8e 31.90%,#297e8e 37.62%,#209c8a 44.29%,#21a387 45.71%,#27ac82 47.62%,#39b977 50.95%,#40bc73 52.86%,#40bc73 55.00%,#3bba76 56.67%,#2aae80 60.00%,#22a486 61.90%,#209b8a 63.57%,#26868e 67.14%,#316b8e 72.14%,#404b88 80.24%,#454083 84.29%,#48357b 90.00%,#492a71 100.00%)"></div><div style="left:572.07px;width:4.86px;background:linear-gradient(#453f83 0.00%,#404c89 14.29%,#35628d 26.90%,#2b7a8e 35.48%,#25888e 39.05%,#209c8a 43.33%,#25aa83 46.19%,#3cbb75 50.24%,#43be72 51.90%,#45bf71 53.33%,#41bd72 55.24%,#38b878 57.38%,#24a884 60.95%,#209c8a 63.10%,#26868e 66.90%,#316a8e 72.14%,#3b568b 76.90%,#414a88 80.48%,#47377d 88.81%,#492a71 100.00%)"></div><div style="left:576.33px;width:4.86px;background:linear-gradient(#454083 0.00%,#3f4d89 13.57%,#36618d 25.24%,#2c788e 33.81%,#248b8d 38.81%,#209d89 42.38%,#22a387 43.81%,#27ac82 45.48%,#40bc73 49.52%,#49c16f 51.90%,#49c16f 53.10%,#45bf71 54.76%,#36b779 57.62%,#26ab82 60.24%,#209d89 62.86%,#26868e 66.67%,#32698e 72.14%,#385c8c 75.24%,#414988 80.71%,#48367c 89.52%,#492a71 100.00%)"></div><div style="left:580.59px;width:4.86px;background:linear-gradient(#444284 0.00%,#3f4f8a 13.57%,#35648d 25.24%,#2a7d8e 34.05%,#23908d 38.81%,#209d89 41.43%,#23a685 43.33%,#2aae80 45.00%,#43be72 48.81%,#4cc26c 50.95%,#4cc26c 52.86%,#43be72 55.48%,#2fb37d 58.57%,#25aa83 60.24%,#209d89 62.62%,#25888e 66.19%,#306d8e 71.19%,#3b568b 76.67%,#404b88 80.00%,#47387e 88.33%,#493077 94.05%,#492b72 100.00%)"></div><div style="left:584.84px;width:4.86px;background:linear-gradient(#444385 0.00%,#3e508a 12.86%,#35638d 23.57%,#2b7a8e 32.14%,#238d8d 37.14%,#209d89 40.48%,#22a586 42.14%,#29ae81 43.81%,#38b878 45.95%,#47c070 48.10%,#50c46a 50.24%,#50c46a 52.62%,#45bf71 55.24%,#33b67a 57.86%,#25a984 60.24%,#209d89 62.38%,#25888e 65.95%,#2f708e 70.48%,#385d8d 74.76%,#3f4d89 79.29%,#444184 83.81%,#47377d 89.05%,#492f76 95.00%,#492b72 100.00%)"></div><div style="left:589.10px;width:4.86px;background:linear-gradient(#434586 0.00%,#3e508a 11.43%,#33678e 24.05%,#297e8e 32.14%,#248b8d 35.71%,#209e89 39.52%,#22a486 40.95%,#28ad81 42.62%,#32b57b 44.29%,#41bd72 46.19%,#4ec36b 48.10%,#54c568 49.52%,#56c667 50.95%,#50c46a 53.33%,#49c16f 54.76%,#36b779 57.38%,#26ab82 59.76%,#22a486 60.95%,#209c8a 62.38%,#26878e 65.95%,#306e8e 70.71%,#3a598c 75.71%,#3f4d89 79.29%,#444184 83.81%,#48367c 89.76%,#492b72 100.00%)"></div><div style="left:593.36px;width:4.86px;background:linear-gradient(#434686 0.00%,#3c548b 12.86%,#33678e 22.86%,#2c768e 28.81%,#28828e 32.38%,#21948c 36.43%,#209f89 38.81%,#24a884 40.71%,#2cb07f 42.38%,#49c16f 46.19%,#50c46a 47.14%,#58c766 48.81%,#5ac864 50.71%,#52c569 53.33%,#39b977 56.90%,#28ad81 59.29%,#23a685 60.48%,#209e89 61.90%,#25898e 65.48%,#2f708e 70.24%,#3f4f8a 78.57%,#434586 82.14%,#47377d 89.29%,#492b72 100.00%)"></div><div style="left:597.62px;width:4.86px;background:linear-gradient(#424787 0.00%,#3b568b 12.86%,#33688e 22.14%,#2a7c8e 29.52%,#22928c 35.24%,#209f89 37.86%,#24a884 39.76%,#2cb07f 41.43%,#38b878 43.10%,#45bf71 44.52%,#58c766 47.14%,#5fc962 48.81%,#5fc962 50.48%,#5cc863 50.71%,#5cc863 51.43%,#52c569 53.57%,#3cbb75 56.43%,#32b57b 57.62%,#26ab82 59.52%,#209d89 61.90%,#248a8d 65.00%,#2e738e 69.52%,#36608d 73.81%,#3f4f8a 78.57%,#434485 82.62%,#47387e 88.81%,#493077 94.76%,#492c73 100.00%)"></div><div style="left:601.88px;width:4.86px;background:linear-gradient(#414988 0.00%,#3b578c 12.14%,#32688e 21.43%,#297e8e 29.05%,#22928c 34.29%,#21a088 37.14%,#25a984 39.05%,#2cb07f 40.48%,#38b878 42.14%,#43be72 43.33%,#5cc863 46.67%,#63cb5f 48.10%,#63cb5f 50.24%,#56c667 53.10%,#3ebc74 56.19%,#28ad81 59.05%,#209f89 61.43%,#25898e 65.24%,#2f6f8e 70.24%,#375e8d 74.29%,#3f4f8a 78.57%,#444284 83.57%,#47377d 89.52%,#492c73 100.00%)"></div><div style="left:606.14px;width:4.86px;background:linear-gradient(#414a88 0.00%,#3b568b 10.24%,#32698e 20.71%,#297e8e 28.10%,#23908d 32.86%,#209e89 35.95%,#23a685 37.62%,#2eb27d 40.00%,#45bf71 42.62%,#63cb5f 46.43%,#67cc5d 47.62%,#67cc5d 49.76%,#5fc962 51.90%,#4ac16d 54.76%,#3cbb75 56.19%,#2cb07f 58.33%,#24a884 59.76%,#21a088 61.19%,#21968b 62.86%,#258a8e 65.00%,#2f708e 70.00%,#375e8d 74.29%,#3e508a 78.33%,#434586 82.38%,#47387e 89.05%,#492c73 100.00%)"></div><div style="left:610.40px;width:4.86px;background:linear-gradient(#404c89 0.00%,#3a598c 10.95%,#306d8e 21.19%,#297f8e 27.38%,#21968b 33.33%,#21a088 35.48%,#24a884 37.14%,#2fb37d 39.29%,#47c070 41.90%,#65cb5e 45.48%,#6ccd5a 46.90%,#6ccd5a 49.52%,#61ca61 51.90%,#4ac16d 54.76%,#36b779 56.90%,#2aae80 58.57%,#23a685 60.00%,#209e89 61.43%,#248a8d 64.76%,#2f718e 69.76%,#375f8d 74.05%,#3f4e89 79.05%,#444385 83.33%,#47387e 89.29%,#492c73 100.00%)"></div><div style="left:614.66px;width:4.86px;background:linear-gradient(#3f4d89 0.00%,#395b8c 10.95%,#316c8e 19.76%,#297f8e 26.67%,#21988b 32.86%,#21a188 34.76%,#25a984 36.43%,#31b47c 38.57%,#45bf71 40.95%,#54c568 42.38%,#63cb5f 44.05%,#63cb5f 44.29%,#6ece59 45.71%,#73d056 47.86%,#71cf57 48.10%,#6ece59 49.76%,#67cc5d 51.19%,#49c16f 55.00%,#2eb27d 57.86%,#25a984 59.52%,#209f89 61.19%,#248b8d 64.52%,#2f718e 69.76%,#36618d 73.57%,#3f4f8a 78.81%,#434586 82.62%,#47397f 88.81%,#492d74 100.00%)"></div><div style="left:618.92px;width:4.86px;background:linear-gradient(#3f4f8a 0.00%,#395a8c 9.05%,#2f708e 20.24%,#26878e 27.86%,#209a8a 32.38%,#21a387 34.29%,#26ab82 35.95%,#2eb27d 37.38%,#47c070 40.24%,#54c568 41.43%,#71cf57 44.76%,#78d153 46.67%,#78d153 47.86%,#75d054 48.10%,#75d054 48.81%,#6ece59 50.48%,#54c568 53.81%,#50c46a 54.05%,#3ebc74 55.95%,#2baf7f 58.33%,#23a785 59.76%,#209f89 61.19%,#25898e 65.00%,#2f718e 69.76%,#395a8c 75.48%,#3e508a 78.57%,#424787 81.90%,#47397f 89.05%,#492d74 100.00%)"></div><div style="left:623.18px;width:4.86px;background:linear-gradient(#3e508a 0.00%,#36608d 11.43%,#2f6f8e 18.81%,#26868e 26.67%,#21958c 30.24%,#21a088 32.86%,#24a884 34.52%,#2fb37d 36.67%,#41bd72 38.81%,#56c667 40.71%,#71cf57 43.57%,#71cf57 43.81%,#75d054 44.29%,#7cd250 45.71%,#7cd250 47.62%,#7ad152 47.86%,#7ad152 48.57%,#6ccd5a 51.19%,#52c569 54.05%,#3ebc74 55.95%,#2eb27d 57.86%,#25aa83 59.29%,#21a088 60.95%,#21968b 62.62%,#25898e 65.00%,#2f708e 70.00%,#3e518a 78.33%,#463b80 88.10%,#492d74 100.00%)"></div><div style="left:627.43px;width:4.86px;background:linear-gradient(#3d528b 0.00%,#36608d 10.24%,#2e738e 19.29%,#27858e 25.48%,#21968b 29.76%,#21a287 32.38%,#25aa83 34.05%,#32b57b 36.19%,#43be72 38.10%,#58c766 40.00%,#65cb5e 41.43%,#6ccd5a 41.90%,#6ccd5a 42.14%,#7cd250 44.05%,#81d34d 45.24%,#81d34d 47.62%,#73d056 50.48%,#5cc863 53.10%,#58c766 53.33%,#47c070 55.24%,#3ebc74 55.95%,#2fb37d 57.62%,#24a884 59.52%,#21a088 60.95%,#21968b 62.62%,#25898e 65.00%,#306e8e 70.48%,#3e508a 78.81%,#463b80 88.33%,#48337a 94.05%,#492e75 100.00%)"></div><div style="left:631.69px;width:4.86px;background:linear-gradient(#3d538b 0.00%,#35628d 10.24%,#2f708e 17.14%,#27858e 24.52%,#20998a 29.52%,#22a387 31.90%,#2baf7f 34.29%,#39b977 36.19%,#4ec36b 38.33%,#5ac864 39.29%,#78d153 42.14%,#78d153 42.38%,#7fd34f 43.10%,#86d54a 44.52%,#89d548 46.19%,#86d54a 46.43%,#84d44c 48.10%,#7cd250 49.52%,#58c766 53.57%,#43be72 55.48%,#2fb37d 57.62%,#24a884 59.52%,#21a088 60.95%,#248b8d 64.52%,#2d748e 69.29%,#34658e 72.86%,#3d528b 78.33%,#434586 83.33%,#463b80 88.57%,#492e75 100.00%)"></div><div style="left:635.95px;width:4.86px;background:linear-gradient(#3c558b 0.00%,#35628d 9.05%,#2d748e 17.62%,#27848e 23.33%,#21978b 28.33%,#22a486 31.19%,#28ad81 32.86%,#36b779 35.00%,#43be72 36.43%,#5fc962 38.81%,#7fd34f 41.90%,#7fd34f 42.14%,#86d54a 42.86%,#8ed645 44.52%,#8ed645 46.19%,#8bd647 46.43%,#8bd647 47.14%,#84d44c 48.81%,#78d153 50.24%,#78d153 50.48%,#61ca61 52.86%,#5cc863 53.10%,#45bf71 55.48%,#33b67a 57.14%,#26ab82 59.05%,#21a088 60.95%,#248b8d 64.52%,#2e728e 69.76%,#375f8d 74.52%,#3e518a 78.81%,#434686 83.10%,#473a7f 89.52%,#492e75 100.00%)"></div><div style="left:640.21px;width:4.86px;background:linear-gradient(#3b578c 0.00%,#35628d 7.86%,#2e738e 16.19%,#27848e 22.38%,#21968b 27.14%,#21a387 30.00%,#2aae80 32.38%,#39b977 34.52%,#54c568 37.14%,#61ca61 38.10%,#86d54a 41.67%,#93d742 43.81%,#93d742 46.19%,#90d744 46.43%,#8ed645 47.62%,#84d44c 49.29%,#7ad152 50.24%,#7ad152 50.48%,#5cc863 53.33%,#58c766 53.57%,#52c569 54.29%,#3cbb75 56.19%,#2eb27d 57.86%,#25aa83 59.29%,#21a088 60.95%,#22938c 63.33%,#2c768e 68.81%,#34658e 73.10%,#3d538b 78.33%,#434686 83.33%,#463c81 88.57%,#48347b 94.29%,#492f76 100.00%)"></div><div style="left:644.47px;width:4.86px;background:linear-gradient(#3a588c 0.00%,#35648d 7.86%,#2c788e 17.38%,#258a8e 23.10%,#20998a 26.90%,#22a486 29.52%,#2db17e 32.14%,#3cbb75 34.05%,#58c766 36.67%,#65cb5e 37.62%,#8ed645 41.43%,#98d83f 43.33%,#98d83f 45.95%,#95d840 46.19%,#93d742 47.38%,#86d54a 49.05%,#86d54a 49.29%,#78d153 50.71%,#78d153 50.95%,#73d056 51.19%,#63cb5f 52.86%,#5fc962 53.10%,#58c766 53.81%,#47c070 55.24%,#32b57b 57.38%,#25aa83 59.29%,#21a287 60.71%,#22928c 63.57%,#2e738e 69.76%,#3c558b 77.86%,#453f83 87.14%,#48357b 93.81%,#492f76 100.00%)"></div><div style="left:648.73px;width:4.86px;background:linear-gradient(#395a8c 0.00%,#33688e 8.81%,#2a7d8e 18.10%,#21978b 25.71%,#23a685 29.05%,#2baf7f 30.95%,#40bc73 33.57%,#5cc863 36.19%,#6acd5b 37.14%,#93d742 40.95%,#a0da3a 43.33%,#9dd93b 45.95%,#95d840 47.62%,#90d744 48.10%,#8bd647 49.05%,#6acd5b 52.38%,#65cb5e 52.62%,#5fc962 53.33%,#45bf71 55.48%,#35b67a 57.14%,#25aa83 59.29%,#21a287 60.71%,#21958c 63.10%,#2c778e 68.81%,#33688e 72.62%,#3d528b 79.05%,#463d81 88.57%,#492f76 100.00%)"></div><div style="left:652.99px;width:4.86px;background:linear-gradient(#385c8c 0.00%,#33678e 7.14%,#2a7b8e 16.43%,#25888e 20.71%,#21968b 24.52%,#22a486 27.86%,#29ae81 29.76%,#38b878 31.90%,#58c766 35.00%,#6ece59 36.67%,#9bd93d 40.71%,#a5db36 42.62%,#a5db36 44.76%,#a2da38 45.00%,#a0da3a 46.43%,#95d840 48.10%,#8ed645 48.81%,#8ed645 49.05%,#71cf57 51.90%,#6ccd5a 52.14%,#65cb5e 52.86%,#58c766 53.81%,#35b67a 57.14%,#27ac82 59.05%,#21a188 60.95%,#21968b 62.86%,#248b8d 64.76%,#2d748e 69.76%,#3c548b 78.57%,#414a88 82.38%,#463c81 89.52%,#493077 100.00%)"></div><div style="left:657.25px;width:4.86px;background:linear-gradient(#375e8d 0.00%,#33678e 5.95%,#297e8e 16.43%,#23908d 22.14%,#20998a 24.29%,#23a685 27.38%,#2baf7f 29.29%,#3bba76 31.43%,#4ec36b 33.33%,#6ece59 35.95%,#73d056 36.19%,#78d153 36.67%,#7cd250 36.90%,#a0da3a 40.24%,#aadc33 42.14%,#aadc33 44.76%,#a8db35 45.00%,#a5db36 46.19%,#9dd93b 47.14%,#9bd93d 47.86%,#90d744 48.81%,#90d744 49.05%,#6ccd5a 52.38%,#67cc5d 52.62%,#61ca61 53.33%,#49c16f 55.24%,#33b67a 57.38%,#26ab82 59.29%,#21a387 60.71%,#21968b 63.10%,#2c778e 69.05%,#35628d 74.52%,#3c548b 78.81%,#453f83 88.10%,#493077 100.00%)"></div><div style="left:661.51px;width:4.86px;background:linear-gradient(#36608d 0.00%,#316a8e 6.90%,#2a7c8e 14.76%,#238d8d 20.48%,#21988b 23.33%,#21a287 25.48%,#24a884 26.90%,#2db17e 28.81%,#45bf71 31.67%,#6acd5b 34.76%,#78d153 35.71%,#a5db36 39.76%,#a5db36 40.00%,#aadc33 40.48%,#b0dd2f 41.43%,#b0dd2f 42.14%,#b2dd2e 42.38%,#b0dd2f 44.52%,#addc31 44.76%,#addc31 45.24%,#aadc33 45.48%,#a8db35 46.43%,#a2da38 46.90%,#9dd93b 47.86%,#95d840 48.57%,#95d840 48.81%,#71cf57 52.14%,#63cb5f 53.10%,#47c070 55.48%,#36b779 57.14%,#28ad81 59.05%,#21a287 60.95%,#21988b 62.62%,#248c8d 64.76%,#2f718e 70.71%,#3c548b 79.05%,#414988 83.33%,#463c81 90.24%,#493178 100.00%)"></div><div style="left:665.77px;width:4.86px;background:linear-gradient(#36618d 0.00%,#2f718e 9.05%,#297f8e 14.76%,#248c8d 19.29%,#21988b 22.38%,#23a685 25.71%,#31b47c 28.57%,#41bd72 30.48%,#56c667 32.38%,#78d153 35.00%,#7cd250 35.24%,#84d44c 35.95%,#89d548 36.19%,#addc31 39.52%,#b8de2a 41.67%,#b8de2a 43.57%,#b5de2c 43.81%,#b5de2c 44.52%,#b2dd2e 44.76%,#b2dd2e 45.24%,#addc31 46.19%,#a8db35 46.67%,#a2da38 47.62%,#89d548 50.24%,#84d44c 50.48%,#6ccd5a 52.62%,#58c766 54.05%,#3bba76 56.67%,#2baf7f 58.57%,#22a486 60.48%,#21968b 63.10%,#26878e 65.95%,#2d758e 69.76%,#34668e 73.81%,#3c548b 79.29%,#463d81 90.00%,#493178 100.00%)"></div><div style="left:670.02px;width:4.86px;background:linear-gradient(#35638d 0.00%,#2e738e 8.81%,#28818e 14.76%,#209a8a 21.90%,#21a387 24.05%,#25a984 25.48%,#2eb27d 27.38%,#40bc73 29.52%,#63cb5f 32.62%,#6ece59 33.33%,#7cd250 34.52%,#81d34d 34.76%,#89d548 35.48%,#8ed645 35.71%,#b2dd2e 39.05%,#bddf27 40.95%,#bddf27 43.33%,#bade29 43.57%,#bade29 44.29%,#b8de2a 44.52%,#b8de2a 45.00%,#b2dd2e 45.95%,#addc31 46.43%,#a8db35 47.38%,#73d056 52.14%,#6ece59 52.38%,#49c16f 55.48%,#35b67a 57.38%,#27ac82 59.29%,#21a387 60.95%,#21968b 63.33%,#2b798e 69.05%,#3a598c 77.86%,#404c89 82.62%,#454083 88.57%,#48367c 95.48%,#483279 100.00%)"></div><div style="left:674.28px;width:4.86px;background:linear-gradient(#34668e 0.00%,#2d748e 8.57%,#297f8e 13.10%,#209b8a 21.43%,#22a486 23.57%,#26ab82 25.00%,#31b47c 26.90%,#4ac16d 29.76%,#71cf57 32.86%,#7cd250 33.57%,#8ed645 35.00%,#93d742 35.24%,#b8de2a 38.57%,#c2df24 40.48%,#c2df24 43.33%,#c0df26 43.57%,#c0df26 44.05%,#bddf27 44.29%,#bade29 45.24%,#b5de2c 45.71%,#b2dd2e 46.43%,#aadc33 47.14%,#aadc33 47.38%,#78d153 51.90%,#5ac864 54.05%,#38b878 57.14%,#29ae81 59.05%,#22a486 60.71%,#21978b 63.10%,#2a7c8e 68.57%,#35648d 74.76%,#3a598c 78.10%,#444184 88.33%,#483279 100.00%)"></div><div style="left:678.54px;width:4.86px;background:linear-gradient(#33688e 0.00%,#2d758e 7.86%,#28828e 13.10%,#209a8a 20.24%,#24a884 23.57%,#2eb27d 25.71%,#41bd72 28.10%,#65cb5e 31.19%,#71cf57 31.90%,#7fd34f 33.10%,#84d44c 33.33%,#95d840 34.76%,#9bd93d 35.00%,#bade29 37.86%,#bade29 38.10%,#c5e023 39.29%,#c8e021 40.71%,#cae120 40.95%,#c5e023 43.81%,#c0df26 44.52%,#c0df26 45.00%,#bade29 45.48%,#b8de2a 46.19%,#b0dd2f 46.90%,#b0dd2f 47.14%,#8bd647 50.48%,#86d54a 50.71%,#7fd34f 51.43%,#7ad152 51.67%,#73d056 52.38%,#5fc962 53.81%,#36b779 57.38%,#28ad81 59.29%,#22a387 60.95%,#21968b 63.57%,#2d758e 70.24%,#3a598c 78.33%,#444284 88.10%,#47387e 94.76%,#48337a 100.00%)"></div><div style="left:682.80px;width:4.86px;background:linear-gradient(#32698e 0.00%,#2c768e 7.14%,#27838e 12.38%,#209b8a 19.52%,#22a387 21.67%,#26ab82 23.33%,#32b57b 25.48%,#4cc26c 28.33%,#63cb5f 30.24%,#6ece59 30.95%,#73d056 31.43%,#7fd34f 32.14%,#84d44c 32.62%,#89d548 32.86%,#90d744 33.57%,#95d840 33.81%,#9dd93b 34.52%,#a2da38 34.76%,#c0df26 37.38%,#c0df26 37.62%,#cae120 38.81%,#cae120 39.29%,#d0e11d 40.24%,#cde11f 42.86%,#bade29 46.19%,#b2dd2e 46.90%,#b2dd2e 47.14%,#84d44c 51.19%,#7fd34f 51.43%,#67cc5d 53.33%,#5cc863 54.05%,#3ebc74 56.67%,#2aae80 59.05%,#21a387 61.19%,#21948c 64.05%,#2b798e 69.52%,#32698e 73.57%,#3b578c 79.29%,#444184 89.05%,#48337a 100.00%)"></div><div style="left:687.06px;width:4.86px;background:linear-gradient(#316b8e 0.00%,#2a7d8e 8.81%,#258a8e 13.57%,#20998a 18.10%,#22a387 20.71%,#28ad81 22.86%,#35b67a 25.00%,#50c46a 27.86%,#71cf57 30.48%,#7cd250 31.19%,#8bd647 32.38%,#90d744 32.62%,#a5db36 34.29%,#aadc33 34.52%,#c2df24 36.67%,#c2df24 36.90%,#cae120 37.62%,#d5e21b 39.76%,#d5e21b 41.43%,#d2e21c 41.67%,#d2e21c 42.62%,#c0df26 45.95%,#b5de2c 46.90%,#b5de2c 47.14%,#9bd93d 49.52%,#95d840 49.76%,#7fd34f 51.67%,#7ad152 51.90%,#6ccd5a 53.10%,#61ca61 53.81%,#3cbb75 56.90%,#2fb37d 58.33%,#22a486 60.95%,#21968b 63.81%,#2a7c8e 69.05%,#385c8c 77.86%,#444385 88.33%,#473a7f 94.05%,#48347b 100.00%)"></div><div style="left:691.32px;width:4.86px;background:linear-gradient(#306e8e 0.00%,#297e8e 8.10%,#248a8d 12.86%,#209b8a 17.62%,#23a685 20.48%,#2baf7f 22.62%,#40bc73 25.48%,#56c667 27.62%,#7fd34f 30.71%,#8ed645 31.67%,#93d742 32.14%,#a2da38 33.10%,#b0dd2f 34.29%,#b5de2c 34.52%,#c5e023 35.95%,#c5e023 36.19%,#d0e11d 37.14%,#dae31a 39.29%,#dae31a 41.19%,#d8e21b 41.43%,#d8e21b 42.38%,#cde11f 44.52%,#c2df24 45.71%,#c2df24 45.95%,#b8de2a 46.90%,#b8de2a 47.14%,#a2da38 49.05%,#9dd93b 49.29%,#84d44c 51.43%,#7fd34f 51.67%,#71cf57 52.86%,#5fc962 54.05%,#40bc73 56.67%,#2db17e 58.81%,#23a685 60.71%,#21978b 63.57%,#297e8e 68.81%,#32688e 74.29%,#395a8c 78.81%,#434485 88.10%,#48347b 100.00%)"></div><div style="left:695.58px;width:4.86px;background:linear-gradient(#2f708e 0.00%,#28828e 8.81%,#20998a 16.19%,#21a387 18.57%,#26ab82 20.71%,#35b67a 23.33%,#4ac16d 25.71%,#73d056 29.05%,#89d548 30.48%,#8ed645 30.95%,#9dd93b 31.90%,#a5db36 32.62%,#aadc33 32.86%,#bddf27 34.52%,#c2df24 34.76%,#c2df24 35.00%,#d2e21c 36.43%,#d2e21c 36.67%,#d8e21b 37.14%,#dfe31a 38.81%,#dfe31a 40.95%,#dde31a 41.19%,#dde31a 41.90%,#d8e21b 42.86%,#d8e21b 43.33%,#d0e11d 44.29%,#cde11f 45.00%,#c5e023 45.71%,#c5e023 45.95%,#b5de2c 47.38%,#b5de2c 47.62%,#b0dd2f 48.10%,#aadc33 48.33%,#8bd647 50.95%,#86d54a 51.19%,#6ece59 53.10%,#63cb5f 53.81%,#43be72 56.43%,#2cb07f 59.05%,#22a486 61.19%,#21968b 64.05%,#28808e 68.33%,#33688e 74.76%,#395a8c 79.05%,#444385 89.05%,#47397f 95.71%,#48357b 100.00%)"></div><div style="left:699.84px;width:4.86px;background:linear-gradient(#2e738e 0.00%,#28808e 6.90%,#209a8a 15.48%,#22a387 17.86%,#28ad81 20.24%,#38b878 22.86%,#56c667 25.95%,#81d34d 29.29%,#90d744 30.24%,#95d840 30.71%,#9bd93d 30.95%,#a0da3a 31.43%,#a5db36 31.67%,#addc31 32.38%,#b2dd2e 32.62%,#c8e021 34.52%,#d5e21b 35.71%,#d5e21b 35.95%,#dde31a 36.67%,#e5e41a 38.33%,#e5e41a 40.71%,#e2e41a 40.95%,#e2e41a 41.67%,#d5e21b 44.29%,#cae120 45.48%,#cae120 45.71%,#9dd93b 49.76%,#98d83f 50.00%,#90d744 50.71%,#81d34d 51.67%,#73d056 52.86%,#67cc5d 53.57%,#63cb5f 54.05%,#4cc26c 55.71%,#2eb27d 58.81%,#23a685 60.95%,#209b8a 63.10%,#25888e 66.90%,#2f718e 72.38%,#385d8d 78.33%,#434586 88.33%,#48357b 100.00%)"></div><div style="left:704.10px;width:4.86px;background:linear-gradient(#2d748e 0.00%,#258a8e 9.29%,#209b8a 14.76%,#22a486 17.14%,#29ae81 19.52%,#39b977 22.14%,#52c569 24.76%,#75d054 27.62%,#8bd647 29.05%,#90d744 29.52%,#a0da3a 30.48%,#a8db35 31.19%,#addc31 31.43%,#b8de2a 32.38%,#bddf27 32.62%,#cae120 33.81%,#d8e21b 35.00%,#d8e21b 35.24%,#dfe31a 35.95%,#eae51b 38.10%,#eae51b 40.48%,#e7e41a 40.71%,#e5e41a 42.14%,#dae31a 44.05%,#cde11f 45.48%,#cde11f 45.71%,#a5db36 49.29%,#a0da3a 49.52%,#8bd647 51.19%,#86d54a 51.43%,#6ece59 53.33%,#5cc863 54.52%,#43be72 56.67%,#35b67a 58.10%,#2cb07f 59.29%,#22a486 61.43%,#21958c 64.52%,#2b7a8e 70.24%,#32688e 75.00%,#3a598c 80.00%,#434485 89.29%,#48367c 100.00%)"></div><div style="left:708.36px;width:4.86px;background:linear-gradient(#2c778e 0.00%,#258a8e 8.10%,#209b8a 13.57%,#22a486 16.19%,#2aae80 18.81%,#3cbb75 21.67%,#56c667 24.29%,#7ad152 27.14%,#89d548 28.10%,#8ed645 28.57%,#93d742 28.81%,#98d83f 29.29%,#a8db35 30.24%,#b0dd2f 30.95%,#b5de2c 31.19%,#cde11f 33.10%,#dae31a 34.29%,#dae31a 34.52%,#e2e41a 35.24%,#efe51d 37.62%,#efe51d 40.24%,#ece51c 40.48%,#ece51c 41.19%,#dae31a 44.52%,#cae120 46.19%,#aadc33 49.05%,#a5db36 49.29%,#9bd93d 50.24%,#95d840 50.48%,#90d744 50.95%,#8bd647 51.19%,#86d54a 51.67%,#78d153 52.62%,#73d056 53.10%,#61ca61 54.29%,#41bd72 56.90%,#2baf7f 59.52%,#23a685 61.19%,#209f89 62.62%,#21968b 64.52%,#2a7c8e 70.00%,#36618d 77.62%,#3e508a 83.81%,#434686 88.57%,#48367c 100.00%)"></div><div style="left:712.61px;width:4.86px;background:linear-gradient(#2b7a8e 0.00%,#248b8d 7.62%,#209c8a 12.86%,#22a586 15.48%,#2aae80 17.86%,#3ebc74 20.95%,#5ac864 23.81%,#7fd34f 26.67%,#8ed645 27.62%,#93d742 28.10%,#98d83f 28.33%,#9dd93b 28.81%,#addc31 29.76%,#b8de2a 30.71%,#bddf27 30.95%,#cde11f 32.38%,#d2e21c 32.62%,#dae31a 33.33%,#dae31a 33.57%,#e7e41a 34.76%,#f4e61f 37.14%,#f4e61f 40.00%,#f1e51e 40.24%,#f1e51e 40.95%,#ece51c 41.67%,#ece51c 42.14%,#e7e41a 43.10%,#dde31a 44.29%,#dde31a 44.52%,#d5e21b 45.24%,#d5e21b 45.48%,#b2dd2e 48.57%,#addc31 48.81%,#a2da38 49.76%,#9dd93b 50.00%,#8bd647 51.43%,#86d54a 51.67%,#78d153 52.86%,#6ccd5a 53.57%,#43be72 56.90%,#35b67a 58.33%,#2cb07f 59.52%,#23a785 61.19%,#209d89 63.10%,#22938c 65.24%,#297e8e 69.76%,#375f8d 78.57%,#434586 89.52%,#47377d 100.00%)"></div><div style="left:716.87px;width:4.86px;background:linear-gradient(#2a7d8e 0.00%,#238e8d 7.38%,#209f89 12.62%,#25aa83 15.71%,#32b57b 18.33%,#41bd72 20.48%,#5fc962 23.33%,#84d44c 26.19%,#93d742 27.14%,#98d83f 27.62%,#a8db35 28.57%,#b0dd2f 29.29%,#b5de2c 29.52%,#cde11f 31.43%,#dde31a 32.86%,#eae51b 34.05%,#f8e622 36.67%,#f8e622 39.52%,#f6e621 39.76%,#f4e61f 41.19%,#e7e41a 43.57%,#dde31a 44.76%,#d2e21c 45.95%,#b8de2a 48.33%,#b2dd2e 48.57%,#a5db36 49.76%,#95d840 50.71%,#8ed645 51.43%,#81d34d 52.14%,#73d056 53.33%,#61ca61 54.52%,#47c070 56.67%,#2eb27d 59.29%,#22a586 61.67%,#21988b 64.29%,#297f8e 69.76%,#316a8e 75.24%,#395b8c 80.24%,#424887 88.33%,#47377d 100.00%)"></div><div style="left:721.13px;width:4.86px;background:linear-gradient(#297f8e 0.00%,#238e8d 6.19%,#21a088 11.90%,#26ab82 14.76%,#33b67a 17.62%,#4cc26c 20.71%,#6ccd5a 23.57%,#93d742 26.43%,#98d83f 26.67%,#a0da3a 27.38%,#b0dd2f 28.33%,#b8de2a 29.05%,#bddf27 29.29%,#c8e021 30.24%,#d0e11d 30.71%,#dde31a 31.90%,#eae51b 33.10%,#eae51b 33.33%,#f6e621 34.76%,#fde726 36.43%,#fde726 39.29%,#fbe724 39.52%,#f8e622 40.95%,#efe51d 42.86%,#e5e41a 44.05%,#e5e41a 44.29%,#d2e21c 46.19%,#bddf27 48.10%,#b8de2a 48.33%,#aadc33 49.52%,#a5db36 49.76%,#9dd93b 50.48%,#8ed645 51.43%,#89d548 51.90%,#84d44c 52.14%,#7fd34f 52.62%,#73d056 53.33%,#6ece59 53.81%,#5cc863 55.00%,#43be72 57.14%,#2fb37d 59.29%,#23a685 61.67%,#20998a 64.29%,#297f8e 69.76%,#375e8d 79.52%,#424787 89.29%,#47387e 100.00%)"></div><div style="left:725.39px;width:4.86px;background:linear-gradient(#27838e 0.00%,#22918c 5.95%,#21a188 10.95%,#27ac82 14.05%,#36b779 17.14%,#4ec36b 20.00%,#65cb5e 22.14%,#84d44c 24.52%,#93d742 25.48%,#98d83f 25.95%,#9dd93b 26.19%,#a5db36 26.90%,#aadc33 27.14%,#b2dd2e 27.86%,#b8de2a 28.10%,#c0df26 28.81%,#c5e023 29.05%,#d2e21c 30.24%,#d8e21b 30.48%,#e2e41a 31.43%,#ece51c 32.38%,#ece51c 32.62%,#f6e621 33.57%,#f8e622 34.29%,#fde726 34.76%,#fde726 40.71%,#f4e61f 42.62%,#eae51b 43.81%,#eae51b 44.05%,#dde31a 45.24%,#dde31a 45.48%,#d8e21b 45.95%,#c2df24 47.86%,#bddf27 48.10%,#b0dd2f 49.29%,#aadc33 49.52%,#a2da38 50.24%,#93d742 51.19%,#84d44c 52.38%,#67cc5d 54.29%,#63cb5f 54.76%,#52c569 55.95%,#3bba76 58.10%,#31b47c 59.29%,#23a785 61.67%,#21a088 63.10%,#21968b 65.24%,#25898e 67.86%,#2d748e 72.86%,#375f8d 79.52%,#424787 89.76%,#47397f 100.00%)"></div><div style="left:729.65px;width:4.86px;background:linear-gradient(#26868e 0.00%,#21968b 6.43%,#21a287 10.24%,#26ab82 12.86%,#33b67a 15.71%,#43be72 17.86%,#67cc5d 21.43%,#6ccd5a 21.67%,#7cd250 23.10%,#81d34d 23.33%,#89d548 24.05%,#98d83f 25.00%,#aadc33 26.43%,#b0dd2f 26.67%,#b8de2a 27.38%,#bddf27 27.62%,#c8e021 28.57%,#d0e11d 29.05%,#e5e41a 30.95%,#f6e621 32.62%,#f6e621 32.86%,#fde726 33.57%,#fde726 41.43%,#f6e621 42.38%,#f4e61f 43.10%,#ece51c 43.81%,#ece51c 44.05%,#e2e41a 45.00%,#dfe31a 45.48%,#cae120 47.38%,#c2df24 47.86%,#b5de2c 49.05%,#b0dd2f 49.29%,#90d744 51.67%,#84d44c 52.38%,#4ec36b 56.43%,#38b878 58.57%,#2eb27d 59.76%,#27ac82 60.95%,#22a486 62.38%,#21968b 65.24%,#297f8e 70.48%,#36608d 79.52%,#414a88 88.57%,#47397f 100.00%)"></div><div style="left:733.91px;width:4.86px;background:linear-gradient(#258a8e 0.00%,#209b8a 6.90%,#23a685 10.48%,#2cb07f 13.10%,#3bba76 15.71%,#52c569 18.57%,#6acd5b 20.71%,#6ece59 20.95%,#75d054 21.67%,#7ad152 21.90%,#8ed645 23.57%,#9dd93b 24.52%,#b2dd2e 26.19%,#b8de2a 26.43%,#d0e11d 28.33%,#d5e21b 28.57%,#e7e41a 30.24%,#f8e622 31.90%,#f8e622 32.14%,#fde726 32.62%,#fde726 41.90%,#f1e51e 43.57%,#f1e51e 43.81%,#e5e41a 45.00%,#e5e41a 45.24%,#dfe31a 45.71%,#cde11f 47.38%,#c8e021 47.62%,#aadc33 50.00%,#a5db36 50.24%,#a0da3a 50.71%,#90d744 51.67%,#81d34d 52.86%,#75d054 53.57%,#71cf57 54.05%,#5fc962 55.24%,#5ac864 55.71%,#4ac16d 56.90%,#2fb37d 59.76%,#28ad81 60.95%,#22a586 62.38%,#209b8a 64.52%,#258a8e 68.10%,#2f6f8e 75.00%,#36618d 79.52%,#414988 89.52%,#473a7f 100.00%)"></div><div style="left:738.17px;width:4.86px;background:linear-gradient(#248c8d 0.00%,#209a8a 5.24%,#22a486 8.81%,#2aae80 11.67%,#3cbb75 15.00%,#52c569 17.62%,#6ece59 20.24%,#73d056 20.48%,#7ad152 21.19%,#7fd34f 21.43%,#93d742 23.10%,#a2da38 24.05%,#b8de2a 25.71%,#bddf27 25.95%,#c8e021 26.90%,#d0e11d 27.38%,#dae31a 28.33%,#dfe31a 28.57%,#e7e41a 29.29%,#f8e622 30.95%,#f8e622 31.19%,#fde726 31.67%,#fde726 42.38%,#f6e621 43.57%,#ece51c 44.52%,#e5e41a 45.48%,#d2e21c 47.14%,#cde11f 47.38%,#bddf27 48.81%,#b8de2a 49.05%,#b0dd2f 49.76%,#aadc33 50.00%,#a2da38 50.71%,#93d742 51.67%,#8ed645 52.14%,#81d34d 52.86%,#4cc26c 56.90%,#31b47c 59.76%,#29ae81 60.95%,#23a685 62.38%,#21978b 65.48%,#258a8e 68.33%,#2f718e 74.76%,#34658e 78.57%,#3c548b 84.76%,#414988 90.00%,#463b80 100.00%)"></div><div style="left:742.43px;width:4.86px;background:linear-gradient(#23908d 0.00%,#209b8a 4.29%,#22a486 7.62%,#25aa83 9.29%,#2fb37d 11.90%,#3bba76 13.81%,#52c569 16.67%,#56c667 16.90%,#71cf57 19.52%,#75d054 19.76%,#7cd250 20.48%,#81d34d 20.71%,#95d840 22.38%,#9bd93d 22.62%,#a2da38 23.33%,#a8db35 23.57%,#b2dd2e 24.52%,#b8de2a 24.76%,#c0df26 25.48%,#c5e023 25.71%,#d0e11d 26.67%,#d5e21b 26.90%,#e7e41a 28.57%,#ece51c 29.05%,#f1e51e 29.29%,#f1e51e 29.52%,#fde726 30.71%,#fde726 42.86%,#f8e622 43.33%,#f8e622 43.57%,#ece51c 44.76%,#ece51c 45.00%,#e7e41a 45.48%,#d5e21b 47.14%,#d0e11d 47.38%,#c0df26 48.81%,#bade29 49.05%,#b2dd2e 49.76%,#a2da38 50.71%,#90d744 52.14%,#84d44c 52.86%,#7fd34f 53.33%,#73d056 54.05%,#4ec36b 56.90%,#32b57b 59.76%,#23a785 62.38%,#209f89 64.05%,#21978b 65.71%,#25898e 68.81%,#2e738e 74.52%,#36618d 80.24%,#414988 90.48%,#463b80 100.00%)"></div><div style="left:746.69px;width:4.86px;background:linear-gradient(#22938c 0.00%,#209f89 4.52%,#25a984 7.86%,#2eb27d 10.48%,#43be72 13.81%,#50c46a 15.48%,#54c568 15.71%,#63cb5f 17.38%,#67cc5d 17.62%,#73d056 18.81%,#78d153 19.05%,#81d34d 20.00%,#86d54a 20.24%,#9bd93d 21.90%,#a0da3a 22.14%,#aadc33 23.10%,#b0dd2f 23.33%,#b8de2a 24.05%,#bddf27 24.29%,#c8e021 25.24%,#d0e11d 25.71%,#d8e21b 26.43%,#dde31a 26.67%,#e7e41a 27.62%,#fde726 29.76%,#fde726 43.33%,#f1e51e 44.52%,#f1e51e 44.76%,#eae51b 45.48%,#d8e21b 47.14%,#d2e21c 47.38%,#c5e023 48.57%,#c0df26 48.81%,#b5de2c 49.76%,#b0dd2f 50.00%,#aadc33 50.48%,#9bd93d 51.43%,#8bd647 52.62%,#75d054 54.05%,#50c46a 56.90%,#38b878 59.29%,#2eb27d 60.48%,#23a785 62.62%,#209f89 64.29%,#21978b 65.95%,#25888e 69.29%,#2d758e 74.05%,#34658e 79.29%,#3f4e89 88.33%,#463c81 100.00%)"></div><div style="left:750.95px;width:4.86px;background:linear-gradient(#21968b 0.00%,#21a088 3.57%,#25a984 6.67%,#33b67a 10.48%,#47c070 13.33%,#63cb5f 16.43%,#67cc5d 16.67%,#84d44c 19.29%,#89d548 19.52%,#a0da3a 21.43%,#a5db36 21.67%,#b0dd2f 22.62%,#b5de2c 22.86%,#bddf27 23.57%,#c2df24 23.81%,#d0e11d 25.00%,#d5e21b 25.24%,#e5e41a 26.67%,#eae51b 26.90%,#fde726 28.81%,#fde726 43.57%,#f6e621 44.29%,#f6e621 44.52%,#e7e41a 45.95%,#dae31a 47.14%,#d5e21b 47.38%,#d0e11d 47.86%,#b8de2a 49.76%,#b2dd2e 50.00%,#addc31 50.48%,#9dd93b 51.43%,#84d44c 53.33%,#78d153 54.05%,#73d056 54.52%,#67cc5d 55.24%,#45bf71 58.10%,#2eb27d 60.71%,#27ac82 61.90%,#22a387 63.57%,#21978b 66.19%,#26868e 70.00%,#2f718e 75.71%,#35648d 80.00%,#3f4d89 89.29%,#463d81 100.00%)"></div><div style="left:755.20px;width:4.86px;background:linear-gradient(#209a8a 0.00%,#22a387 3.57%,#29ae81 6.90%,#33b67a 9.29%,#4ac16d 12.62%,#61ca61 15.24%,#65cb5e 15.48%,#75d054 17.14%,#7ad152 17.38%,#95d840 19.76%,#9bd93d 20.00%,#b5de2c 22.14%,#bade29 22.38%,#d0e11d 24.05%,#d8e21b 24.76%,#dde31a 25.00%,#e7e41a 25.95%,#fde726 28.10%,#fde726 43.81%,#fbe724 44.29%,#efe51d 45.48%,#e2e41a 46.67%,#dde31a 47.14%,#d8e21b 47.38%,#cae120 48.57%,#c5e023 48.81%,#bade29 49.76%,#b5de2c 50.00%,#b0dd2f 50.48%,#aadc33 50.71%,#a5db36 51.19%,#a0da3a 51.43%,#9bd93d 51.90%,#8bd647 52.86%,#86d54a 53.33%,#7ad152 54.05%,#4cc26c 57.62%,#2fb37d 60.71%,#27ac82 62.14%,#22a387 63.81%,#21978b 66.43%,#28818e 71.43%,#34658e 80.00%,#3f4d89 89.76%,#463d81 100.00%)"></div><div style="left:759.46px;width:4.86px;background:linear-gradient(#209e89 0.00%,#22a486 2.62%,#29ae81 5.71%,#39b977 9.29%,#4ec36b 12.14%,#5fc962 14.05%,#63cb5f 14.29%,#75d054 16.19%,#7ad152 16.43%,#89d548 17.86%,#8ed645 18.10%,#9bd93d 19.29%,#a0da3a 19.52%,#bade29 21.67%,#c0df26 21.90%,#cde11f 23.10%,#d2e21c 23.33%,#e2e41a 24.76%,#e7e41a 25.00%,#fde726 27.14%,#fde726 44.29%,#f1e51e 45.48%,#e5e41a 46.67%,#dfe31a 47.14%,#dae31a 47.38%,#cde11f 48.57%,#c8e021 48.81%,#bddf27 49.76%,#addc31 50.71%,#9bd93d 52.14%,#8ed645 52.86%,#7fd34f 54.05%,#73d056 54.76%,#47c070 58.33%,#2fb37d 60.95%,#27ac82 62.38%,#22a387 64.05%,#21988b 66.43%,#25898e 70.00%,#2c768e 74.76%,#35648d 80.71%,#3f4d89 90.24%,#463e82 100.00%)"></div><div style="left:763.72px;width:4.86px;background:linear-gradient(#21a188 0.00%,#26ab82 3.57%,#2eb27d 5.95%,#3bba76 8.33%,#52c569 11.43%,#75d054 15.24%,#7ad152 15.48%,#8bd647 17.14%,#90d744 17.38%,#a0da3a 18.81%,#a5db36 19.05%,#b0dd2f 20.00%,#b5de2c 20.24%,#d0e11d 22.38%,#d5e21b 22.86%,#dae31a 23.10%,#e7e41a 24.29%,#efe51d 25.00%,#f4e61f 25.24%,#fde726 26.19%,#fde726 44.52%,#f1e51e 45.71%,#e5e41a 46.90%,#dfe31a 47.38%,#dae31a 47.62%,#cde11f 48.81%,#c8e021 49.05%,#b5de2c 50.48%,#b0dd2f 50.71%,#a8db35 51.43%,#98d83f 52.38%,#93d742 52.86%,#86d54a 53.57%,#4ec36b 57.86%,#3bba76 59.76%,#2fb37d 61.19%,#27ac82 62.62%,#22a387 64.29%,#21988b 66.67%,#258a8e 70.00%,#2b798e 74.29%,#34668e 80.48%,#3f4d89 90.71%,#453f83 100.00%)"></div><div style="left:767.98px;width:4.86px;background:linear-gradient(#22a486 0.00%,#2aae80 3.57%,#35b67a 6.19%,#41bd72 8.33%,#56c667 10.95%,#75d054 14.29%,#7ad152 14.52%,#8ed645 16.43%,#93d742 16.67%,#a2da38 18.10%,#a8db35 18.33%,#cae120 21.19%,#d0e11d 21.43%,#dfe31a 22.86%,#e7e41a 23.33%,#fde726 25.48%,#fde726 44.76%,#e7e41a 46.90%,#dae31a 47.86%,#d0e11d 48.81%,#cae120 49.05%,#c2df24 49.76%,#bddf27 50.00%,#b5de2c 50.71%,#b0dd2f 50.95%,#aadc33 51.43%,#a5db36 51.67%,#a0da3a 52.14%,#90d744 53.10%,#8bd647 53.57%,#7fd34f 54.29%,#71cf57 55.48%,#65cb5e 56.19%,#49c16f 58.57%,#2fb37d 61.43%,#27ac82 62.86%,#22a387 64.52%,#21968b 67.62%,#297f8e 73.10%,#34658e 81.19%,#3f4e89 90.71%,#454083 100.00%)"></div><div style="left:772.24px;width:4.86px;background:linear-gradient(#24a884 0.00%,#2baf7f 2.62%,#35b67a 5.00%,#3ebc74 6.67%,#5ac864 10.48%,#71cf57 12.86%,#75d054 13.10%,#90d744 15.71%,#95d840 15.95%,#a8db35 17.62%,#addc31 17.86%,#bddf27 19.29%,#c2df24 19.52%,#d2e21c 20.95%,#d8e21b 21.19%,#eae51b 22.86%,#f1e51e 23.33%,#fde726 24.52%,#fde726 45.00%,#e7e41a 47.14%,#d2e21c 48.81%,#cde11f 49.05%,#c2df24 50.00%,#bddf27 50.24%,#b8de2a 50.71%,#a8db35 51.67%,#8ed645 53.57%,#89d548 53.81%,#7ad152 55.00%,#6ece59 55.71%,#56c667 57.62%,#49c16f 58.81%,#35b67a 60.95%,#2baf7f 62.38%,#23a785 64.05%,#209e89 65.95%,#21958c 68.10%,#2c788e 75.24%,#32688e 80.24%,#3f4e89 91.19%,#454083 100.00%)"></div></div>
<div class="hm" style="top:10.1px;height:625.4px"><div style="left:815.80px;width:26.98px;background:linear-gradient(#461857 0.00%,#461857 46.19%,#461959 68.10%,#471b5c 78.10%,#481f61 84.52%,#49266b 88.33%,#492e75 90.24%,#463d81 91.90%,#444284 92.62%,#444284 93.33%,#453f83 93.81%,#492b72 96.19%,#49266b 97.62%,#482164 100.00%)"></div><div style="left:842.18px;width:26.98px;background:linear-gradient(#461857 0.00%,#461857 46.19%,#461959 67.86%,#471b5c 77.86%,#471e60 83.33%,#492569 87.86%,#492d74 90.00%,#463e82 91.90%,#444385 92.86%,#463e82 93.81%,#492d74 95.71%,#49296f 96.43%,#492569 97.86%,#482164 100.00%)"></div><div style="left:868.55px;width:26.98px;background:linear-gradient(#461857 0.00%,#461857 45.95%,#461959 67.62%,#471b5c 77.62%,#471e60 83.10%,#492569 87.62%,#492d74 89.76%,#463e82 91.67%,#444385 92.62%,#463e82 93.57%,#492d74 95.48%,#49296f 96.19%,#492569 97.62%,#482164 100.00%)"></div><div style="left:894.93px;width:26.98px;background:linear-gradient(#461857 0.00%,#461857 45.71%,#461959 67.38%,#471b5c 77.38%,#471e60 82.86%,#492569 87.38%,#492d74 89.52%,#463c81 91.19%,#444385 92.38%,#463c81 93.57%,#492d74 95.24%,#49296f 95.95%,#492569 97.38%,#482063 100.00%)"></div><div style="left:921.31px;width:26.98px;background:linear-gradient(#461857 0.00%,#461857 45.00%,#461959 66.90%,#471b5c 76.90%,#471e60 82.38%,#492569 86.90%,#492d74 89.05%,#463c81 90.71%,#444385 91.90%,#463c81 93.10%,#492d74 94.76%,#49296f 95.48%,#492569 96.90%,#482063 100.00%)"></div><div style="left:947.68px;width:26.98px;background:linear-gradient(#461857 0.00%,#461857 44.29%,#461959 66.19%,#471b5c 76.19%,#471e60 81.67%,#492569 86.19%,#492d74 88.33%,#463c81 90.00%,#444385 91.19%,#463c81 92.38%,#492d74 94.05%,#49296f 94.76%,#482266 97.62%,#481f61 100.00%)"></div><div style="left:974.06px;width:26.98px;background:linear-gradient(#461857 0.00%,#461857 43.10%,#461959 65.24%,#471b5c 75.24%,#481f61 81.67%,#492569 85.24%,#492d74 87.38%,#463c81 89.05%,#444385 90.24%,#463c81 91.43%,#492d74 93.10%,#49276d 94.29%,#482266 96.67%,#471e60 100.00%)"></div><div style="left:1000.44px;width:26.98px;background:linear-gradient(#461857 0.00%,#461857 42.14%,#461959 64.05%,#471b5c 74.29%,#481f61 80.71%,#492569 84.29%,#492d74 86.43%,#463c81 88.10%,#444385 89.29%,#463c81 90.48%,#492d74 92.14%,#49286e 93.10%,#482266 95.71%,#471e60 100.00%)"></div><div style="left:1026.82px;width:26.98px;background:linear-gradient(#461857 0.00%,#461857 40.71%,#461959 62.86%,#471b5c 73.10%,#481f61 79.52%,#492569 83.10%,#492f76 85.48%,#463c81 86.90%,#444385 88.10%,#463c81 89.29%,#492f76 90.71%,#492569 93.10%,#481f61 96.67%,#471d5f 100.00%)"></div><div style="left:1053.19px;width:26.98px;background:linear-gradient(#461857 0.00%,#461959 61.43%,#471c5d 73.81%,#482063 78.81%,#49266b 81.90%,#492f76 84.05%,#463c81 85.48%,#444385 86.67%,#463c81 87.86%,#492f76 89.29%,#49266b 91.43%,#482063 94.52%,#471c5d 100.00%)"></div><div style="left:1079.57px;width:26.98px;background:linear-gradient(#461857 0.00%,#461959 59.76%,#471c5d 72.38%,#482063 77.38%,#49266b 80.48%,#492f76 82.62%,#463c81 84.05%,#444385 85.24%,#463c81 86.43%,#492f76 87.86%,#49266b 90.00%,#482266 91.67%,#471e60 95.00%,#471c5d 100.00%)"></div><div style="left:1105.95px;width:26.98px;background:linear-gradient(#461857 0.00%,#461857 35.71%,#461959 57.86%,#471b5c 68.10%,#481f61 74.76%,#492569 78.33%,#492a71 80.00%,#493077 80.95%,#463b80 82.14%,#444284 83.10%,#444284 83.81%,#453f83 84.29%,#493077 85.95%,#492a71 86.90%,#492569 88.57%,#481f61 92.14%,#471b5c 100.00%)"></div><div style="left:1132.32px;width:26.98px;background:linear-gradient(#461857 0.00%,#461959 55.95%,#471c5d 68.81%,#482063 73.81%,#49266b 76.90%,#492f76 79.05%,#463c81 80.48%,#444385 81.67%,#463c81 82.86%,#492c73 84.76%,#492468 87.14%,#471d5f 92.86%,#471b5c 100.00%)"></div><div style="left:1158.70px;width:26.98px;background:linear-gradient(#461857 0.00%,#461959 53.81%,#471c5d 66.43%,#482063 71.67%,#49266b 74.76%,#492c73 76.43%,#463c81 78.33%,#444385 79.52%,#463c81 80.71%,#492c73 82.62%,#49266b 84.29%,#482063 87.38%,#471d5f 90.71%,#461a5a 100.00%)"></div><div style="left:1185.08px;width:26.98px;background:linear-gradient(#461857 0.00%,#461959 51.43%,#471c5d 64.29%,#481f61 68.57%,#49276c 72.86%,#493178 75.00%,#463c81 76.19%,#444385 77.38%,#463c81 78.57%,#493178 79.76%,#492b72 80.71%,#482266 84.05%,#471c5d 90.48%,#461a5a 100.00%)"></div><div style="left:1211.45px;width:26.98px;background:linear-gradient(#461857 0.00%,#461959 49.05%,#471c5d 61.90%,#482063 66.90%,#49276c 70.48%,#493178 72.62%,#463c81 73.81%,#444385 75.00%,#463c81 76.19%,#493178 77.38%,#492b72 78.33%,#482266 81.67%,#471c5d 88.10%,#461a5a 100.00%)"></div><div style="left:1237.83px;width:26.98px;background:linear-gradient(#461857 0.00%,#461959 46.19%,#471d5f 60.95%,#482266 65.71%,#49276c 67.86%,#492e75 69.52%,#463c81 71.19%,#444385 72.38%,#463c81 73.57%,#48337a 74.52%,#492b72 75.71%,#482266 79.05%,#471e60 82.38%,#471b5c 88.10%,#461959 100.00%)"></div><div style="left:1264.21px;width:26.98px;background:linear-gradient(#461857 0.00%,#461959 42.38%,#471d5f 57.14%,#482266 62.14%,#49276d 64.52%,#492e75 65.95%,#463c81 67.62%,#444385 68.81%,#463c81 70.00%,#492a71 72.38%,#492569 74.05%,#482063 76.90%,#471b5c 84.52%,#461959 100.00%)"></div><div style="left:1290.58px;width:26.98px;background:linear-gradient(#461857 0.00%,#461959 38.57%,#471d5f 53.57%,#482164 57.86%,#49286e 61.19%,#493077 62.62%,#463c81 64.05%,#444385 65.24%,#463c81 66.43%,#493077 67.86%,#49296f 69.05%,#482164 72.62%,#471b5c 81.19%,#461959 100.00%)"></div><div style="left:1316.96px;width:26.98px;background:linear-gradient(#461857 0.00%,#461959 34.52%,#471d5f 49.76%,#482063 53.10%,#49266b 56.43%,#492d74 58.33%,#463c81 60.24%,#444385 61.43%,#463c81 62.62%,#492d74 64.52%,#49266b 66.43%,#482063 69.76%,#471c5d 75.00%,#461a5a 81.19%,#461959 100.00%)"></div><div style="left:1343.34px;width:26.98px;background:linear-gradient(#461857 0.00%,#461959 28.81%,#471b5c 39.76%,#471e60 45.48%,#482266 49.05%,#49276c 51.19%,#492d74 52.86%,#463c81 54.76%,#444385 55.95%,#463c81 57.14%,#492d74 59.05%,#49276c 60.71%,#481f61 65.24%,#461a5a 75.95%,#461959 100.00%)"></div><div style="left:1369.72px;width:26.98px;background:linear-gradient(#461959 0.00%,#461a5a 29.76%,#481f61 40.71%,#49276c 45.48%,#492c73 46.90%,#48347b 48.10%,#463d81 49.05%,#444385 50.24%,#463d81 51.43%,#48347b 52.38%,#492c73 53.57%,#49276c 55.00%,#481f61 59.76%,#461a5a 70.71%,#461959 100.00%)"></div><div style="left:1396.09px;width:26.98px;background:linear-gradient(#461959 0.00%,#461a5a 23.10%,#481f61 34.29%,#49276d 39.29%,#492f76 40.95%,#453f83 42.86%,#444385 43.81%,#453f83 44.76%,#492f76 46.67%,#49276d 48.33%,#482266 50.95%,#471e60 54.52%,#471b5c 60.48%,#461959 71.67%,#461857 100.00%)"></div><div style="left:1422.47px;width:26.98px;background:linear-gradient(#461959 0.00%,#461a5a 14.52%,#471c5d 21.19%,#482063 26.67%,#492569 29.76%,#49296f 31.19%,#493178 32.86%,#453f83 34.52%,#444385 35.48%,#453f83 36.43%,#492e75 38.57%,#49276c 40.48%,#482063 44.29%,#471d5f 47.86%,#461959 64.05%,#461857 100.00%)"></div><div style="left:1448.85px;width:26.98px;background:linear-gradient(#461a5a 0.00%,#471c5d 10.71%,#482266 18.10%,#49276d 20.71%,#492d74 22.14%,#453f83 24.52%,#444385 25.48%,#453f83 26.43%,#492d74 28.81%,#49276d 30.24%,#482164 33.57%,#471d5f 38.10%,#461959 54.52%,#461857 100.00%)"></div><div style="left:1475.22px;width:26.98px;background:linear-gradient(#471e60 0.00%,#482266 4.52%,#49296f 7.86%,#483279 9.52%,#463c81 10.71%,#444184 11.43%,#444385 12.14%,#444184 12.86%,#463c81 13.57%,#483279 14.76%,#492b72 15.95%,#492569 18.10%,#481f61 22.38%,#471c5d 27.14%,#461959 42.14%,#461857 100.00%)"></div></div>
<div style="position:absolute;left:1534px;top:10.1px;width:31.5px;height:625.4px;background:linear-gradient(#fde726 0.0%,#dfe31a 5.0%,#bddf27 10.0%,#9bd93d 15.0%,#7ad152 20.0%,#5fc962 25.0%,#45bf71 30.0%,#31b47c 35.0%,#24a884 40.0%,#209c8a 45.0%,#22918c 50.0%,#27858e 55.0%,#2b798e 60.0%,#306d8e 65.0%,#36618d 70.0%,#3c558b 75.0%,#424887 80.0%,#463b80 85.0%,#492e75 90.0%,#482266 95.0%,#451754 100.0%)"></div>
<svg width="1996" height="710" style="position:absolute;left:0;top:0"><line x1="176.51" y1="10.10" x2="176.51" y2="635.50" stroke="#fff" stroke-width="1.70" stroke-dasharray="2 2.94" stroke-opacity="0.7"/><line x1="262.23" y1="10.10" x2="262.23" y2="635.50" stroke="#fff" stroke-width="1.70" stroke-dasharray="2 2.94" stroke-opacity="0.7"/><line x1="347.94" y1="10.10" x2="347.94" y2="635.50" stroke="#fff" stroke-width="1.70" stroke-dasharray="2 2.94" stroke-opacity="0.7"/><line x1="433.65" y1="10.10" x2="433.65" y2="635.50" stroke="#fff" stroke-width="1.70" stroke-dasharray="2 2.94" stroke-opacity="0.7"/><line x1="519.36" y1="10.10" x2="519.36" y2="635.50" stroke="#fff" stroke-width="1.70" stroke-dasharray="2 2.94" stroke-opacity="0.7"/><line x1="605.07" y1="10.10" x2="605.07" y2="635.50" stroke="#fff" stroke-width="1.70" stroke-dasharray="2 2.94" stroke-opacity="0.7"/><line x1="690.79" y1="10.10" x2="690.79" y2="635.50" stroke="#fff" stroke-width="1.70" stroke-dasharray="2 2.94" stroke-opacity="0.7"/><line x1="952.96" y1="10.10" x2="952.96" y2="635.50" stroke="#fff" stroke-width="1.70" stroke-dasharray="2 2.94" stroke-opacity="0.7"/><line x1="1090.12" y1="10.10" x2="1090.12" y2="635.50" stroke="#fff" stroke-width="1.70" stroke-dasharray="2 2.94" stroke-opacity="0.7"/><line x1="1227.28" y1="10.10" x2="1227.28" y2="635.50" stroke="#fff" stroke-width="1.70" stroke-dasharray="2 2.94" stroke-opacity="0.7"/><line x1="1364.44" y1="10.10" x2="1364.44" y2="635.50" stroke="#fff" stroke-width="1.70" stroke-dasharray="2 2.94" stroke-opacity="0.7"/><line x1="90.80" y1="605.72" x2="776.50" y2="605.72" stroke="#fff" stroke-width="1.70" stroke-dasharray="2 2.94" stroke-opacity="0.7"/><line x1="815.80" y1="605.72" x2="1501.60" y2="605.72" stroke="#fff" stroke-width="1.70" stroke-dasharray="2 2.94" stroke-opacity="0.7"/><line x1="90.80" y1="531.27" x2="776.50" y2="531.27" stroke="#fff" stroke-width="1.70" stroke-dasharray="2 2.94" stroke-opacity="0.7"/><line x1="815.80" y1="531.27" x2="1501.60" y2="531.27" stroke="#fff" stroke-width="1.70" stroke-dasharray="2 2.94" stroke-opacity="0.7"/><line x1="90.80" y1="456.81" x2="776.50" y2="456.81" stroke="#fff" stroke-width="1.70" stroke-dasharray="2 2.94" stroke-opacity="0.7"/><line x1="815.80" y1="456.81" x2="1501.60" y2="456.81" stroke="#fff" stroke-width="1.70" stroke-dasharray="2 2.94" stroke-opacity="0.7"/><line x1="90.80" y1="382.36" x2="776.50" y2="382.36" stroke="#fff" stroke-width="1.70" stroke-dasharray="2 2.94" stroke-opacity="0.7"/><line x1="815.80" y1="382.36" x2="1501.60" y2="382.36" stroke="#fff" stroke-width="1.70" stroke-dasharray="2 2.94" stroke-opacity="0.7"/><line x1="90.80" y1="307.91" x2="776.50" y2="307.91" stroke="#fff" stroke-width="1.70" stroke-dasharray="2 2.94" stroke-opacity="0.7"/><line x1="815.80" y1="307.91" x2="1501.60" y2="307.91" stroke="#fff" stroke-width="1.70" stroke-dasharray="2 2.94" stroke-opacity="0.7"/><line x1="90.80" y1="233.46" x2="776.50" y2="233.46" stroke="#fff" stroke-width="1.70" stroke-dasharray="2 2.94" stroke-opacity="0.7"/><line x1="815.80" y1="233.46" x2="1501.60" y2="233.46" stroke="#fff" stroke-width="1.70" stroke-dasharray="2 2.94" stroke-opacity="0.7"/><line x1="90.80" y1="159.00" x2="776.50" y2="159.00" stroke="#fff" stroke-width="1.70" stroke-dasharray="2 2.94" stroke-opacity="0.7"/><line x1="815.80" y1="159.00" x2="1501.60" y2="159.00" stroke="#fff" stroke-width="1.70" stroke-dasharray="2 2.94" stroke-opacity="0.7"/><line x1="90.80" y1="84.55" x2="776.50" y2="84.55" stroke="#fff" stroke-width="1.70" stroke-dasharray="2 2.94" stroke-opacity="0.7"/><line x1="815.80" y1="84.55" x2="1501.60" y2="84.55" stroke="#fff" stroke-width="1.70" stroke-dasharray="2 2.94" stroke-opacity="0.7"/><circle cx="176.51" cy="592.32" r="11.1" fill="#3553aa" stroke="#2d48a0" stroke-width="0.8"/><circle cx="347.94" cy="505.95" r="11.1" fill="#12873a" stroke="#0f8036" stroke-width="0.8"/><circle cx="605.07" cy="340.67" r="11.1" fill="#ec1c24" stroke="#e01a22" stroke-width="0.8"/><circle cx="815.80" cy="592.62" r="9.3" fill="none" stroke="#2d47ad" stroke-width="3.8"/><circle cx="1227.28" cy="479.15" r="9.3" fill="none" stroke="#138a3a" stroke-width="3.8"/><circle cx="1364.44" cy="364.49" r="9.3" fill="none" stroke="#ec1c24" stroke-width="3.8"/><rect x="100.20" y="21.10" width="424.00" height="327.10" fill="#fff"/><line x1="178.74" y1="29.40" x2="178.74" y2="296.00" stroke="#c8c8c8" stroke-width="1.00" stroke-dasharray="1.2 1.6"/><line x1="231.34" y1="29.40" x2="231.34" y2="296.00" stroke="#c8c8c8" stroke-width="1.00" stroke-dasharray="1.2 1.6"/><line x1="283.94" y1="29.40" x2="283.94" y2="296.00" stroke="#c8c8c8" stroke-width="1.00" stroke-dasharray="1.2 1.6"/><line x1="336.54" y1="29.40" x2="336.54" y2="296.00" stroke="#c8c8c8" stroke-width="1.00" stroke-dasharray="1.2 1.6"/><line x1="389.14" y1="29.40" x2="389.14" y2="296.00" stroke="#c8c8c8" stroke-width="1.00" stroke-dasharray="1.2 1.6"/><line x1="441.74" y1="29.40" x2="441.74" y2="296.00" stroke="#c8c8c8" stroke-width="1.00" stroke-dasharray="1.2 1.6"/><line x1="494.34" y1="29.40" x2="494.34" y2="296.00" stroke="#c8c8c8" stroke-width="1.00" stroke-dasharray="1.2 1.6"/><line x1="157.70" y1="247.50" x2="516.00" y2="247.50" stroke="#c8c8c8" stroke-width="1.00" stroke-dasharray="1.2 1.6"/><line x1="157.70" y1="199.00" x2="516.00" y2="199.00" stroke="#c8c8c8" stroke-width="1.00" stroke-dasharray="1.2 1.6"/><line x1="157.70" y1="150.50" x2="516.00" y2="150.50" stroke="#c8c8c8" stroke-width="1.00" stroke-dasharray="1.2 1.6"/><line x1="157.70" y1="102.00" x2="516.00" y2="102.00" stroke="#c8c8c8" stroke-width="1.00" stroke-dasharray="1.2 1.6"/><line x1="157.70" y1="53.50" x2="516.00" y2="53.50" stroke="#c8c8c8" stroke-width="1.00" stroke-dasharray="1.2 1.6"/><g fill="none" stroke-width="2.6" stroke-linejoin="round" stroke-linecap="round"><clipPath id="cp100"><rect x="157.70" y="29.40" width="358.30" height="266.60"/></clipPath><polyline clip-path="url(#cp100)" stroke="#ee1c1c" points="157.7,266.4 158.8,266.1 159.8,265.8 160.9,265.5 161.9,265.2 163.0,264.9 164.0,264.6 165.1,264.3 166.1,264.0 167.2,263.7 168.2,263.4 169.3,263.0 170.3,262.7 171.4,262.3 172.4,262.0 173.5,261.7 174.5,261.3 175.6,260.9 176.6,260.6 177.7,260.2 178.7,259.8 179.8,259.5 180.8,259.1 181.9,258.7 182.9,258.3 184.0,257.9 185.1,257.5 186.1,257.1 187.2,256.7 188.2,256.2 189.3,255.8 190.3,255.4 191.4,254.9 192.4,254.5 193.5,254.0 194.5,253.6 195.6,253.1 196.6,252.6 197.7,252.1 198.7,251.7 199.8,251.2 200.8,250.7 201.9,250.1 202.9,249.6 204.0,249.1 205.0,248.6 206.1,248.0 207.1,247.5 208.2,246.9 209.2,246.3 210.3,245.8 211.4,245.2 212.4,244.6 213.5,244.0 214.5,243.4 215.6,242.7 216.6,242.1 217.7,241.5 218.7,240.8 219.8,240.2 220.8,239.5 221.9,238.8 222.9,238.1 224.0,237.4 225.0,236.7 226.1,236.0 227.1,235.3 228.2,234.5 229.2,233.8 230.3,233.0 231.3,232.2 232.4,231.4 233.4,230.6 234.5,229.8 235.5,229.0 236.6,228.1 237.7,227.3 238.7,226.4 239.8,225.5 240.8,224.6 241.9,223.7 242.9,222.8 244.0,221.8 245.0,220.9 246.1,219.9 247.1,218.9 248.2,217.9 249.2,216.9 250.3,215.9 251.3,214.8 252.4,213.8 253.4,212.7 254.5,211.6 255.5,210.5 256.6,209.4 257.6,208.2 258.7,207.1 259.7,205.9 260.8,204.7 261.8,203.5 262.9,202.2 264.0,201.0 265.0,199.7 266.1,198.4 267.1,197.1 268.2,195.8 269.2,194.4 270.3,193.1 271.3,191.7 272.4,190.3 273.4,188.9 274.5,187.4 275.5,186.0 276.6,184.5 277.6,183.0 278.7,181.5 279.7,179.9 280.8,178.4 281.8,176.8 282.9,175.2 283.9,173.5 285.0,171.9 286.0,170.2 287.1,168.6 288.1,166.9 289.2,165.2 290.3,163.4 291.3,161.7 292.4,159.9 293.4,158.1 294.5,156.3 295.5,154.5 296.6,152.6 297.6,150.8 298.7,148.9 299.7,147.0 300.8,145.1 301.8,143.2 302.9,141.2 303.9,139.3 305.0,137.3 306.0,135.3 307.1,133.4 308.1,131.4 309.2,129.4 310.2,127.4 311.3,125.4 312.3,123.3 313.4,121.3 314.4,119.3 315.5,117.3 316.6,115.2 317.6,113.2 318.7,111.2 319.7,109.2 320.8,107.2 321.8,105.2 322.9,103.2 323.9,101.2 325.0,99.2 326.0,97.3 327.1,95.4 328.1,93.4 329.2,91.6 330.2,89.7 331.3,87.8 332.3,86.0 333.4,84.2 334.4,82.5 335.5,80.8 336.5,79.1 337.6,77.4 338.6,75.8 339.7,74.3 340.7,72.8 341.8,71.3 342.9,69.9 343.9,68.5 345.0,67.2 346.0,65.9 347.1,64.8 348.1,63.6 349.2,62.5 350.2,61.5 351.3,60.6 352.3,59.7 353.4,58.9 354.4,58.1 355.5,57.5 356.5,56.9 357.6,56.3 358.6,55.9 359.7,55.5 360.7,55.2 361.8,55.0 362.8,54.8 363.9,54.7 364.9,54.7 366.0,54.8 367.0,54.9 368.1,55.1 369.2,55.3 370.2,55.6 371.3,55.9 372.3,56.4 373.4,56.8 374.4,57.3 375.5,57.9 376.5,58.5 377.6,59.2 378.6,59.9 379.7,60.7 380.7,61.6 381.8,62.5 382.8,63.4 383.9,64.4 384.9,65.4 386.0,66.5 387.0,67.6 388.1,68.8 389.1,70.0 390.2,71.2 391.2,72.5 392.3,73.8 393.3,75.2 394.4,76.6 395.5,78.0 396.5,79.4 397.6,80.9 398.6,82.4 399.7,84.0 400.7,85.5 401.8,87.1 402.8,88.8 403.9,90.4 404.9,92.0 406.0,93.7 407.0,95.4 408.1,97.1 409.1,98.8 410.2,100.6 411.2,102.3 412.3,104.1 413.3,105.9 414.4,107.6 415.4,109.4 416.5,111.2 417.5,113.0 418.6,114.8 419.6,116.6 420.7,118.4 421.8,120.2 422.8,122.0 423.9,123.8 424.9,125.6 426.0,127.4 427.0,129.2 428.1,131.0 429.1,132.8 430.2,134.6 431.2,136.3 432.3,138.1 433.3,139.9 434.4,141.6 435.4,143.3 436.5,145.1 437.5,146.8 438.6,148.5 439.6,150.2 440.7,151.9 441.7,153.5 442.8,155.2 443.8,156.9 444.9,158.5 445.9,160.1 447.0,161.7 448.1,163.3 449.1,164.9 450.2,166.4 451.2,168.0 452.3,169.5 453.3,171.1 454.4,172.6 455.4,174.0 456.5,175.5 457.5,177.0 458.6,178.4 459.6,179.8 460.7,181.3 461.7,182.7 462.8,184.0 463.8,185.4 464.9,186.8 465.9,188.1 467.0,189.4 468.0,190.7 469.1,192.0 470.1,193.3 471.2,194.5 472.2,195.8 473.3,197.0 474.4,198.2 475.4,199.4 476.5,200.6 477.5,201.7 478.6,202.9 479.6,204.0 480.7,205.1 481.7,206.2 482.8,207.3 483.8,208.4 484.9,209.5 485.9,210.5 487.0,211.6 488.0,212.6 489.1,213.6 490.1,214.6 491.2,215.6 492.2,216.5 493.3,217.5 494.3,218.4 495.4,219.4 496.4,220.3 497.5,221.2 498.5,222.1 499.6,223.0 500.7,223.8 501.7,224.7 502.8,225.5 503.8,226.4 504.9,227.2 505.9,228.0 507.0,228.8 508.0,229.6 509.1,230.3 510.1,231.1 511.2,231.9 512.2,232.6 513.3,233.3 514.3,234.1 515.4,234.8"/><polyline clip-path="url(#cp100)" stroke="#0f7f2c" points="157.7,285.3 158.8,285.0 159.8,284.7 160.9,284.4 161.9,284.1 163.0,283.8 164.0,283.5 165.1,283.1 166.1,282.8 167.2,282.4 168.2,282.1 169.3,281.7 170.3,281.3 171.4,280.8 172.4,280.4 173.5,280.0 174.5,279.5 175.6,279.0 176.6,278.5 177.7,278.0 178.7,277.4 179.8,276.9 180.8,276.3 181.9,275.7 182.9,275.0 184.0,274.4 185.1,273.7 186.1,273.0 187.2,272.2 188.2,271.5 189.3,270.7 190.3,269.8 191.4,269.0 192.4,268.1 193.5,267.1 194.5,266.1 195.6,265.1 196.6,264.1 197.7,262.9 198.7,261.8 199.8,260.6 200.8,259.3 201.9,258.0 202.9,256.7 204.0,255.3 205.0,253.8 206.1,252.3 207.1,250.7 208.2,249.0 209.2,247.3 210.3,245.5 211.4,243.7 212.4,241.8 213.5,239.8 214.5,237.7 215.6,235.6 216.6,233.4 217.7,231.1 218.7,228.8 219.8,226.3 220.8,223.8 221.9,221.3 222.9,218.7 224.0,216.0 225.0,213.2 226.1,210.5 227.1,207.6 228.2,204.8 229.2,201.9 230.3,199.0 231.3,196.1 232.4,193.2 233.4,190.3 234.5,187.5 235.5,184.7 236.6,182.0 237.7,179.4 238.7,176.9 239.8,174.5 240.8,172.3 241.9,170.2 242.9,168.3 244.0,166.7 245.0,165.2 246.1,164.0 247.1,163.0 248.2,162.2 249.2,161.8 250.3,161.5 251.3,161.6 252.4,161.9 253.4,162.4 254.5,163.2 255.5,164.2 256.6,165.4 257.6,166.8 258.7,168.4 259.7,170.2 260.8,172.1 261.8,174.2 262.9,176.4 264.0,178.7 265.0,181.1 266.1,183.6 267.1,186.1 268.2,188.7 269.2,191.3 270.3,194.0 271.3,196.6 272.4,199.2 273.4,201.8 274.5,204.4 275.5,207.0 276.6,209.5 277.6,212.0 278.7,214.5 279.7,216.8 280.8,219.2 281.8,221.4 282.9,223.7 283.9,225.8 285.0,227.9 286.0,230.0 287.1,231.9 288.1,233.8 289.2,235.7 290.3,237.5 291.3,239.2 292.4,240.9 293.4,242.5 294.5,244.1 295.5,245.6 296.6,247.1 297.6,248.5 298.7,249.8 299.7,251.1 300.8,252.4 301.8,253.6 302.9,254.8 303.9,256.0 305.0,257.1 306.0,258.1 307.1,259.1 308.1,260.1 309.2,261.1 310.2,262.0 311.3,262.9 312.3,263.7 313.4,264.6 314.4,265.4 315.5,266.1 316.6,266.9 317.6,267.6 318.7,268.3 319.7,269.0 320.8,269.6 321.8,270.3 322.9,270.9 323.9,271.5 325.0,272.0 326.0,272.6 327.1,273.1 328.1,273.7 329.2,274.2 330.2,274.6 331.3,275.1 332.3,275.6 333.4,276.0 334.4,276.5 335.5,276.9 336.5,277.3 337.6,277.7 338.6,278.0 339.7,278.4 340.7,278.8 341.8,279.1 342.9,279.5 343.9,279.8 345.0,280.1 346.0,280.4 347.1,280.7 348.1,281.0 349.2,281.3 350.2,281.6 351.3,281.9 352.3,282.1 353.4,282.4 354.4,282.6 355.5,282.9 356.5,283.1 357.6,283.3 358.6,283.6 359.7,283.8 360.7,284.0 361.8,284.2 362.8,284.4 363.9,284.6 364.9,284.8 366.0,285.0 367.0,285.2 368.1,285.4 369.2,285.5 370.2,285.7 371.3,285.9 372.3,286.0 373.4,286.2 374.4,286.4 375.5,286.5 376.5,286.7 377.6,286.8 378.6,286.9 379.7,287.1 380.7,287.2 381.8,287.4 382.8,287.5 383.9,287.6 384.9,287.7 386.0,287.9 387.0,288.0 388.1,288.1 389.1,288.2 390.2,288.3 391.2,288.4 392.3,288.5 393.3,288.6 394.4,288.7 395.5,288.8 396.5,288.9 397.6,289.0 398.6,289.1 399.7,289.2 400.7,289.3 401.8,289.4 402.8,289.5 403.9,289.6 404.9,289.7 406.0,289.8 407.0,289.8 408.1,289.9 409.1,290.0 410.2,290.1 411.2,290.1 412.3,290.2 413.3,290.3 414.4,290.4 415.4,290.4 416.5,290.5 417.5,290.6 418.6,290.6 419.6,290.7 420.7,290.8 421.8,290.8 422.8,290.9 423.9,290.9 424.9,291.0 426.0,291.1 427.0,291.1 428.1,291.2 429.1,291.2 430.2,291.3 431.2,291.3 432.3,291.4 433.3,291.4 434.4,291.5 435.4,291.5 436.5,291.6 437.5,291.6 438.6,291.7 439.6,291.7 440.7,291.8 441.7,291.8 442.8,291.9 443.8,291.9 444.9,292.0 445.9,292.0 447.0,292.0 448.1,292.1 449.1,292.1 450.2,292.2 451.2,292.2 452.3,292.2 453.3,292.3 454.4,292.3 455.4,292.4 456.5,292.4 457.5,292.4 458.6,292.5 459.6,292.5 460.7,292.5 461.7,292.6 462.8,292.6 463.8,292.6 464.9,292.7 465.9,292.7 467.0,292.7 468.0,292.8 469.1,292.8 470.1,292.8 471.2,292.9 472.2,292.9 473.3,292.9 474.4,292.9 475.4,293.0 476.5,293.0 477.5,293.0 478.6,293.1 479.6,293.1 480.7,293.1 481.7,293.1 482.8,293.2 483.8,293.2 484.9,293.2 485.9,293.2 487.0,293.3 488.0,293.3 489.1,293.3 490.1,293.3 491.2,293.4 492.2,293.4 493.3,293.4 494.3,293.4 495.4,293.4 496.4,293.5 497.5,293.5 498.5,293.5 499.6,293.5 500.7,293.6 501.7,293.6 502.8,293.6 503.8,293.6 504.9,293.6 505.9,293.7 507.0,293.7 508.0,293.7 509.1,293.7 510.1,293.7 511.2,293.7 512.2,293.8 513.3,293.8 514.3,293.8 515.4,293.8"/><polyline clip-path="url(#cp100)" stroke="#3049a8" points="157.7,291.3 158.8,290.9 159.8,290.5 160.9,290.0 161.9,289.5 163.0,289.0 164.0,288.4 165.1,287.7 166.1,286.9 167.2,286.0 168.2,285.0 169.3,283.9 170.3,282.6 171.4,281.2 172.4,279.6 173.5,277.8 174.5,275.7 175.6,273.4 176.6,270.8 177.7,267.9 178.7,264.7 179.8,261.3 180.8,257.7 181.9,254.0 182.9,250.4 184.0,247.1 185.1,244.3 186.1,242.2 187.2,241.0 188.2,240.9 189.3,241.5 190.3,242.9 191.4,244.8 192.4,247.2 193.5,249.9 194.5,252.8 195.6,255.7 196.6,258.6 197.7,261.5 198.7,264.1 199.8,266.7 200.8,269.0 201.9,271.1 202.9,273.1 204.0,274.9 205.0,276.5 206.1,278.0 207.1,279.4 208.2,280.6 209.2,281.7 210.3,282.7 211.4,283.6 212.4,284.4 213.5,285.2 214.5,285.9 215.6,286.5 216.6,287.1 217.7,287.6 218.7,288.1 219.8,288.6 220.8,289.0 221.9,289.4 222.9,289.7 224.0,290.0 225.0,290.3 226.1,290.6 227.1,290.9 228.2,291.1 229.2,291.4 230.3,291.6 231.3,291.8 232.4,292.0 233.4,292.1 234.5,292.3 235.5,292.4 236.6,292.6 237.7,292.7 238.7,292.9 239.8,293.0 240.8,293.1 241.9,293.2 242.9,293.3 244.0,293.4 245.0,293.5 246.1,293.6 247.1,293.7 248.2,293.7 249.2,293.8 250.3,293.9 251.3,294.0 252.4,294.0 253.4,294.1 254.5,294.1 255.5,294.2 256.6,294.3 257.6,294.3 258.7,294.4 259.7,294.4 260.8,294.5 261.8,294.5 262.9,294.5 264.0,294.6 265.0,294.6 266.1,294.7 267.1,294.7 268.2,294.7 269.2,294.8 270.3,294.8 271.3,294.8 272.4,294.8 273.4,294.9 274.5,294.9 275.5,294.9 276.6,295.0 277.6,295.0 278.7,295.0 279.7,295.0 280.8,295.0 281.8,295.1 282.9,295.1 283.9,295.1 285.0,295.1 286.0,295.1 287.1,295.2 288.1,295.2 289.2,295.2 290.3,295.2 291.3,295.2 292.4,295.2 293.4,295.3 294.5,295.3 295.5,295.3 296.6,295.3 297.6,295.3 298.7,295.3 299.7,295.3 300.8,295.4 301.8,295.4 302.9,295.4 303.9,295.4 305.0,295.4 306.0,295.4 307.1,295.4 308.1,295.4 309.2,295.4 310.2,295.5 311.3,295.5 312.3,295.5 313.4,295.5 314.4,295.5 315.5,295.5 316.6,295.5 317.6,295.5 318.7,295.5 319.7,295.5 320.8,295.5 321.8,295.5 322.9,295.6 323.9,295.6 325.0,295.6 326.0,295.6 327.1,295.6 328.1,295.6 329.2,295.6 330.2,295.6 331.3,295.6 332.3,295.6 333.4,295.6 334.4,295.6 335.5,295.6 336.5,295.6 337.6,295.6 338.6,295.6 339.7,295.6 340.7,295.7 341.8,295.7 342.9,295.7 343.9,295.7 345.0,295.7 346.0,295.7 347.1,295.7 348.1,295.7 349.2,295.7 350.2,295.7 351.3,295.7 352.3,295.7 353.4,295.7 354.4,295.7 355.5,295.7 356.5,295.7 357.6,295.7 358.6,295.7 359.7,295.7 360.7,295.7 361.8,295.7 362.8,295.7 363.9,295.7 364.9,295.7 366.0,295.7 367.0,295.7 368.1,295.8 369.2,295.8 370.2,295.8 371.3,295.8 372.3,295.8 373.4,295.8 374.4,295.8 375.5,295.8 376.5,295.8 377.6,295.8 378.6,295.8 379.7,295.8 380.7,295.8 381.8,295.8 382.8,295.8 383.9,295.8 384.9,295.8 386.0,295.8 387.0,295.8 388.1,295.8 389.1,295.8 390.2,295.8 391.2,295.8 392.3,295.8 393.3,295.8 394.4,295.8 395.5,295.8 396.5,295.8 397.6,295.8 398.6,295.8 399.7,295.8 400.7,295.8 401.8,295.8 402.8,295.8 403.9,295.8 404.9,295.8 406.0,295.8 407.0,295.8 408.1,295.8 409.1,295.8 410.2,295.8 411.2,295.8 412.3,295.8 413.3,295.8 414.4,295.8 415.4,295.8 416.5,295.8 417.5,295.8 418.6,295.8 419.6,295.9 420.7,295.9 421.8,295.9 422.8,295.9 423.9,295.9 424.9,295.9 426.0,295.9 427.0,295.9 428.1,295.9 429.1,295.9 430.2,295.9 431.2,295.9 432.3,295.9 433.3,295.9 434.4,295.9 435.4,295.9 436.5,295.9 437.5,295.9 438.6,295.9 439.6,295.9 440.7,295.9 441.7,295.9 442.8,295.9 443.8,295.9 444.9,295.9 445.9,295.9 447.0,295.9 448.1,295.9 449.1,295.9 450.2,295.9 451.2,295.9 452.3,295.9 453.3,295.9 454.4,295.9 455.4,295.9 456.5,295.9 457.5,295.9 458.6,295.9 459.6,295.9 460.7,295.9 461.7,295.9 462.8,295.9 463.8,295.9 464.9,295.9 465.9,295.9 467.0,295.9 468.0,295.9 469.1,295.9 470.1,295.9 471.2,295.9 472.2,295.9 473.3,295.9 474.4,295.9 475.4,295.9 476.5,295.9 477.5,295.9 478.6,295.9 479.6,295.9 480.7,295.9 481.7,295.9 482.8,295.9 483.8,295.9 484.9,295.9 485.9,295.9 487.0,295.9 488.0,295.9 489.1,295.9 490.1,295.9 491.2,295.9 492.2,295.9 493.3,295.9 494.3,295.9 495.4,295.9 496.4,295.9 497.5,295.9 498.5,295.9 499.6,295.9 500.7,295.9 501.7,295.9 502.8,295.9 503.8,295.9 504.9,295.9 505.9,295.9 507.0,295.9 508.0,295.9 509.1,295.9 510.1,295.9 511.2,295.9 512.2,295.9 513.3,295.9 514.3,295.9 515.4,295.9"/></g><rect x="157.70" y="29.40" width="358.30" height="266.60" fill="none" stroke="#1a1a1a" stroke-width="1.4"/><line x1="178.74" y1="296.00" x2="178.74" y2="300.50" stroke="#1a1a1a" stroke-width="1.20"/><text x="178.74" y="316.20" font-size="16.50" text-anchor="middle" font-family="'Liberation Serif','Times New Roman',serif" fill="#000">400</text><line x1="231.34" y1="296.00" x2="231.34" y2="300.50" stroke="#1a1a1a" stroke-width="1.20"/><text x="231.34" y="316.20" font-size="16.50" text-anchor="middle" font-family="'Liberation Serif','Times New Roman',serif" fill="#000">450</text><line x1="283.94" y1="296.00" x2="283.94" y2="300.50" stroke="#1a1a1a" stroke-width="1.20"/><text x="283.94" y="316.20" font-size="16.50" text-anchor="middle" font-family="'Liberation Serif','Times New Roman',serif" fill="#000">500</text><line x1="336.54" y1="296.00" x2="336.54" y2="300.50" stroke="#1a1a1a" stroke-width="1.20"/><text x="336.54" y="316.20" font-size="16.50" text-anchor="middle" font-family="'Liberation Serif','Times New Roman',serif" fill="#000">550</text><line x1="389.14" y1="296.00" x2="389.14" y2="300.50" stroke="#1a1a1a" stroke-width="1.20"/><text x="389.14" y="316.20" font-size="16.50" text-anchor="middle" font-family="'Liberation Serif','Times New Roman',serif" fill="#000">600</text><line x1="441.74" y1="296.00" x2="441.74" y2="300.50" stroke="#1a1a1a" stroke-width="1.20"/><text x="441.74" y="316.20" font-size="16.50" text-anchor="middle" font-family="'Liberation Serif','Times New Roman',serif" fill="#000">650</text><line x1="494.34" y1="296.00" x2="494.34" y2="300.50" stroke="#1a1a1a" stroke-width="1.20"/><text x="494.34" y="316.20" font-size="16.50" text-anchor="middle" font-family="'Liberation Serif','Times New Roman',serif" fill="#000">700</text><line x1="153.20" y1="296.00" x2="157.70" y2="296.00" stroke="#1a1a1a" stroke-width="1.20"/><text x="150.70" y="301.60" font-size="16.50" text-anchor="end" font-family="'Liberation Serif','Times New Roman',serif" fill="#000">0.0</text><line x1="153.20" y1="247.50" x2="157.70" y2="247.50" stroke="#1a1a1a" stroke-width="1.20"/><text x="150.70" y="253.10" font-size="16.50" text-anchor="end" font-family="'Liberation Serif','Times New Roman',serif" fill="#000">0.2</text><line x1="153.20" y1="199.00" x2="157.70" y2="199.00" stroke="#1a1a1a" stroke-width="1.20"/><text x="150.70" y="204.60" font-size="16.50" text-anchor="end" font-family="'Liberation Serif','Times New Roman',serif" fill="#000">0.4</text><line x1="153.20" y1="150.50" x2="157.70" y2="150.50" stroke="#1a1a1a" stroke-width="1.20"/><text x="150.70" y="156.10" font-size="16.50" text-anchor="end" font-family="'Liberation Serif','Times New Roman',serif" fill="#000">0.6</text><line x1="153.20" y1="102.00" x2="157.70" y2="102.00" stroke="#1a1a1a" stroke-width="1.20"/><text x="150.70" y="107.60" font-size="16.50" text-anchor="end" font-family="'Liberation Serif','Times New Roman',serif" fill="#000">0.8</text><line x1="153.20" y1="53.50" x2="157.70" y2="53.50" stroke="#1a1a1a" stroke-width="1.20"/><text x="150.70" y="59.10" font-size="16.50" text-anchor="end" font-family="'Liberation Serif','Times New Roman',serif" fill="#000">1.0</text><text x="336.85" y="336.30" font-size="18.00" text-anchor="middle" font-family="'Liberation Serif','Times New Roman',serif" fill="#000">Wavelength (nm)</text><text x="0.00" y="0.00" font-size="18.50" text-anchor="middle" font-family="'Liberation Serif','Times New Roman',serif" fill="#000" transform="translate(121.20 163.70) rotate(-90)">Scattering Cross-Section (a.u.)</text><line x1="171.70" y1="49.40" x2="190.20" y2="49.40" stroke="#ee1c1c" stroke-width="2.60"/><text x="192.00" y="55.20" font-size="16.2" font-family="'Liberation Serif','Times New Roman',serif" fill="#000">Disk <tspan font-family="'DejaVu Sans',sans-serif" font-size="16">(<tspan font-style="italic">d</tspan><tspan dx="3">=</tspan><tspan dx="3">160nm)</tspan></tspan></text><line x1="171.70" y1="67.50" x2="190.20" y2="67.50" stroke="#0f7f2c" stroke-width="2.60"/><text x="192.00" y="73.30" font-size="16.2" font-family="'Liberation Serif','Times New Roman',serif" fill="#000">Disk <tspan font-family="'DejaVu Sans',sans-serif" font-size="16">(<tspan font-style="italic">d</tspan><tspan dx="3">=</tspan><tspan dx="3">100nm)</tspan></tspan></text><line x1="171.70" y1="85.60" x2="190.20" y2="85.60" stroke="#3049a8" stroke-width="2.60"/><text x="192.00" y="91.40" font-size="16.2" font-family="'Liberation Serif','Times New Roman',serif" fill="#000">Disk <tspan font-family="'DejaVu Sans',sans-serif" font-size="16">(<tspan font-style="italic">d</tspan><tspan dx="3">=</tspan><tspan dx="3">60nm)</tspan></tspan></text><rect x="827.90" y="21.30" width="423.40" height="326.90" fill="#fff"/><line x1="906.48" y1="29.80" x2="906.48" y2="295.80" stroke="#c8c8c8" stroke-width="1.00" stroke-dasharray="1.2 1.6"/><line x1="959.18" y1="29.80" x2="959.18" y2="295.80" stroke="#c8c8c8" stroke-width="1.00" stroke-dasharray="1.2 1.6"/><line x1="1011.88" y1="29.80" x2="1011.88" y2="295.80" stroke="#c8c8c8" stroke-width="1.00" stroke-dasharray="1.2 1.6"/><line x1="1064.58" y1="29.80" x2="1064.58" y2="295.80" stroke="#c8c8c8" stroke-width="1.00" stroke-dasharray="1.2 1.6"/><line x1="1117.28" y1="29.80" x2="1117.28" y2="295.80" stroke="#c8c8c8" stroke-width="1.00" stroke-dasharray="1.2 1.6"/><line x1="1169.98" y1="29.80" x2="1169.98" y2="295.80" stroke="#c8c8c8" stroke-width="1.00" stroke-dasharray="1.2 1.6"/><line x1="1222.68" y1="29.80" x2="1222.68" y2="295.80" stroke="#c8c8c8" stroke-width="1.00" stroke-dasharray="1.2 1.6"/><line x1="885.40" y1="247.70" x2="1244.00" y2="247.70" stroke="#c8c8c8" stroke-width="1.00" stroke-dasharray="1.2 1.6"/><line x1="885.40" y1="199.60" x2="1244.00" y2="199.60" stroke="#c8c8c8" stroke-width="1.00" stroke-dasharray="1.2 1.6"/><line x1="885.40" y1="151.50" x2="1244.00" y2="151.50" stroke="#c8c8c8" stroke-width="1.00" stroke-dasharray="1.2 1.6"/><line x1="885.40" y1="103.40" x2="1244.00" y2="103.40" stroke="#c8c8c8" stroke-width="1.00" stroke-dasharray="1.2 1.6"/><line x1="885.40" y1="55.30" x2="1244.00" y2="55.30" stroke="#c8c8c8" stroke-width="1.00" stroke-dasharray="1.2 1.6"/><g fill="none" stroke-width="2.6" stroke-linejoin="round" stroke-linecap="round"><clipPath id="cp827"><rect x="885.40" y="29.80" width="358.60" height="266.00"/></clipPath><polyline clip-path="url(#cp827)" stroke="#ee1c1c" points="885.4,295.7 886.5,295.7 887.5,295.7 888.6,295.7 889.6,295.7 890.7,295.7 891.7,295.7 892.8,295.7 893.8,295.7 894.9,295.7 895.9,295.7 897.0,295.7 898.0,295.7 899.1,295.7 900.2,295.7 901.2,295.7 902.3,295.7 903.3,295.7 904.4,295.7 905.4,295.7 906.5,295.7 907.5,295.7 908.6,295.7 909.6,295.7 910.7,295.7 911.8,295.7 912.8,295.7 913.9,295.7 914.9,295.7 916.0,295.7 917.0,295.7 918.1,295.7 919.1,295.7 920.2,295.7 921.2,295.7 922.3,295.7 923.3,295.7 924.4,295.7 925.5,295.7 926.5,295.7 927.6,295.7 928.6,295.7 929.7,295.7 930.7,295.7 931.8,295.7 932.8,295.7 933.9,295.7 934.9,295.7 936.0,295.7 937.0,295.7 938.1,295.7 939.2,295.7 940.2,295.7 941.3,295.7 942.3,295.6 943.4,295.6 944.4,295.6 945.5,295.6 946.5,295.6 947.6,295.6 948.6,295.6 949.7,295.6 950.7,295.6 951.8,295.6 952.9,295.6 953.9,295.6 955.0,295.6 956.0,295.6 957.1,295.6 958.1,295.6 959.2,295.6 960.2,295.6 961.3,295.6 962.3,295.6 963.4,295.6 964.4,295.6 965.5,295.6 966.6,295.6 967.6,295.6 968.7,295.5 969.7,295.5 970.8,295.5 971.8,295.5 972.9,295.5 973.9,295.5 975.0,295.5 976.0,295.5 977.1,295.5 978.2,295.5 979.2,295.5 980.3,295.5 981.3,295.5 982.4,295.5 983.4,295.4 984.5,295.4 985.5,295.4 986.6,295.4 987.6,295.4 988.7,295.4 989.7,295.4 990.8,295.4 991.9,295.4 992.9,295.3 994.0,295.3 995.0,295.3 996.1,295.3 997.1,295.3 998.2,295.3 999.2,295.3 1000.3,295.2 1001.3,295.2 1002.4,295.2 1003.4,295.2 1004.5,295.2 1005.6,295.1 1006.6,295.1 1007.7,295.1 1008.7,295.1 1009.8,295.0 1010.8,295.0 1011.9,295.0 1012.9,294.9 1014.0,294.9 1015.0,294.9 1016.1,294.8 1017.1,294.8 1018.2,294.8 1019.3,294.7 1020.3,294.7 1021.4,294.6 1022.4,294.6 1023.5,294.5 1024.5,294.4 1025.6,294.4 1026.6,294.3 1027.7,294.2 1028.7,294.2 1029.8,294.1 1030.9,294.0 1031.9,293.9 1033.0,293.8 1034.0,293.7 1035.1,293.5 1036.1,293.4 1037.2,293.2 1038.2,293.1 1039.3,292.9 1040.3,292.7 1041.4,292.5 1042.4,292.3 1043.5,292.0 1044.6,291.8 1045.6,291.5 1046.7,291.1 1047.7,290.8 1048.8,290.3 1049.8,289.9 1050.9,289.4 1051.9,288.8 1053.0,288.1 1054.0,287.4 1055.1,286.6 1056.1,285.6 1057.2,284.6 1058.3,283.4 1059.3,282.0 1060.4,280.5 1061.4,278.7 1062.5,276.8 1063.5,274.5 1064.6,272.1 1065.6,269.3 1066.7,266.4 1067.7,263.2 1068.8,260.0 1069.8,256.9 1070.9,254.0 1072.0,251.6 1073.0,250.0 1074.1,249.2 1075.1,249.3 1076.2,250.1 1077.2,251.4 1078.3,253.2 1079.3,255.3 1080.4,257.7 1081.4,260.2 1082.5,262.8 1083.6,265.3 1084.6,267.6 1085.7,269.9 1086.7,272.0 1087.8,273.9 1088.8,275.7 1089.9,277.3 1090.9,278.7 1092.0,280.1 1093.0,281.3 1094.1,282.4 1095.1,283.4 1096.2,284.3 1097.3,285.1 1098.3,285.8 1099.4,286.5 1100.4,287.1 1101.5,287.6 1102.5,288.2 1103.6,288.6 1104.6,289.1 1105.7,289.4 1106.7,289.8 1107.8,290.1 1108.8,290.4 1109.9,290.7 1111.0,291.0 1112.0,291.2 1113.1,291.5 1114.1,291.7 1115.2,291.9 1116.2,292.1 1117.3,292.2 1118.3,292.4 1119.4,292.5 1120.4,292.7 1121.5,292.8 1122.5,292.9 1123.6,293.1 1124.7,293.2 1125.7,293.3 1126.8,293.4 1127.8,293.5 1128.9,293.5 1129.9,293.6 1131.0,293.7 1132.0,293.8 1133.1,293.9 1134.1,293.9 1135.2,294.0 1136.3,294.0 1137.3,294.1 1138.4,294.2 1139.4,294.2 1140.5,294.3 1141.5,294.3 1142.6,294.4 1143.6,294.4 1144.7,294.4 1145.7,294.5 1146.8,294.5 1147.8,294.6 1148.9,294.6 1150.0,294.6 1151.0,294.7 1152.1,294.7 1153.1,294.7 1154.2,294.7 1155.2,294.8 1156.3,294.8 1157.3,294.8 1158.4,294.8 1159.4,294.9 1160.5,294.9 1161.5,294.9 1162.6,294.9 1163.7,295.0 1164.7,295.0 1165.8,295.0 1166.8,295.0 1167.9,295.0 1168.9,295.0 1170.0,295.1 1171.0,295.1 1172.1,295.1 1173.1,295.1 1174.2,295.1 1175.2,295.1 1176.3,295.2 1177.4,295.2 1178.4,295.2 1179.5,295.2 1180.5,295.2 1181.6,295.2 1182.6,295.2 1183.7,295.2 1184.7,295.3 1185.8,295.3 1186.8,295.3 1187.9,295.3 1189.0,295.3 1190.0,295.3 1191.1,295.3 1192.1,295.3 1193.2,295.3 1194.2,295.3 1195.3,295.3 1196.3,295.4 1197.4,295.4 1198.4,295.4 1199.5,295.4 1200.5,295.4 1201.6,295.4 1202.7,295.4 1203.7,295.4 1204.8,295.4 1205.8,295.4 1206.9,295.4 1207.9,295.4 1209.0,295.4 1210.0,295.4 1211.1,295.4 1212.1,295.5 1213.2,295.5 1214.2,295.5 1215.3,295.5 1216.4,295.5 1217.4,295.5 1218.5,295.5 1219.5,295.5 1220.6,295.5 1221.6,295.5 1222.7,295.5 1223.7,295.5 1224.8,295.5 1225.8,295.5 1226.9,295.5 1228.0,295.5 1229.0,295.5 1230.1,295.5 1231.1,295.5 1232.2,295.5 1233.2,295.5 1234.3,295.5 1235.3,295.5 1236.4,295.5 1237.4,295.6 1238.5,295.6 1239.5,295.6 1240.6,295.6 1241.7,295.6 1242.7,295.6 1243.8,295.6"/><polyline clip-path="url(#cp827)" stroke="#0f7f2c" points="885.4,295.5 886.5,295.5 887.5,295.5 888.6,295.5 889.6,295.5 890.7,295.5 891.7,295.5 892.8,295.5 893.8,295.5 894.9,295.4 895.9,295.4 897.0,295.4 898.0,295.4 899.1,295.4 900.2,295.4 901.2,295.4 902.3,295.4 903.3,295.4 904.4,295.4 905.4,295.3 906.5,295.3 907.5,295.3 908.6,295.3 909.6,295.3 910.7,295.3 911.8,295.3 912.8,295.2 913.9,295.2 914.9,295.2 916.0,295.2 917.0,295.2 918.1,295.2 919.1,295.1 920.2,295.1 921.2,295.1 922.3,295.1 923.3,295.0 924.4,295.0 925.5,295.0 926.5,295.0 927.6,294.9 928.6,294.9 929.7,294.9 930.7,294.8 931.8,294.8 932.8,294.8 933.9,294.7 934.9,294.7 936.0,294.6 937.0,294.6 938.1,294.5 939.2,294.5 940.2,294.4 941.3,294.4 942.3,294.3 943.4,294.2 944.4,294.2 945.5,294.1 946.5,294.0 947.6,293.9 948.6,293.8 949.7,293.7 950.7,293.6 951.8,293.5 952.9,293.4 953.9,293.2 955.0,293.1 956.0,292.9 957.1,292.8 958.1,292.6 959.2,292.4 960.2,292.2 961.3,291.9 962.3,291.7 963.4,291.4 964.4,291.1 965.5,290.8 966.6,290.4 967.6,290.0 968.7,289.5 969.7,289.0 970.8,288.4 971.8,287.8 972.9,287.1 973.9,286.3 975.0,285.4 976.0,284.4 977.1,283.3 978.2,282.0 979.2,280.6 980.3,279.0 981.3,277.1 982.4,275.1 983.4,272.8 984.5,270.2 985.5,267.3 986.6,264.2 987.6,260.8 988.7,257.3 989.7,253.7 990.8,250.1 991.9,246.9 992.9,244.3 994.0,242.4 995.0,241.4 996.1,241.5 997.1,242.2 998.2,243.6 999.2,245.6 1000.3,247.9 1001.3,250.6 1002.4,253.4 1003.4,256.2 1004.5,259.1 1005.6,261.8 1006.6,264.4 1007.7,266.9 1008.7,269.1 1009.8,271.2 1010.8,273.1 1011.9,274.9 1012.9,276.5 1014.0,277.9 1015.0,279.2 1016.1,280.4 1017.1,281.5 1018.2,282.5 1019.3,283.4 1020.3,284.3 1021.4,285.0 1022.4,285.7 1023.5,286.3 1024.5,286.9 1025.6,287.4 1026.6,287.9 1027.7,288.3 1028.7,288.8 1029.8,289.1 1030.9,289.5 1031.9,289.8 1033.0,290.1 1034.0,290.4 1035.1,290.7 1036.1,290.9 1037.2,291.1 1038.2,291.4 1039.3,291.6 1040.3,291.7 1041.4,291.9 1042.4,292.1 1043.5,292.2 1044.6,292.4 1045.6,292.5 1046.7,292.6 1047.7,292.8 1048.8,292.9 1049.8,293.0 1050.9,293.1 1051.9,293.2 1053.0,293.3 1054.0,293.4 1055.1,293.5 1056.1,293.5 1057.2,293.6 1058.3,293.7 1059.3,293.7 1060.4,293.8 1061.4,293.9 1062.5,293.9 1063.5,294.0 1064.6,294.0 1065.6,294.1 1066.7,294.1 1067.7,294.2 1068.8,294.2 1069.8,294.3 1070.9,294.3 1072.0,294.4 1073.0,294.4 1074.1,294.4 1075.1,294.5 1076.2,294.5 1077.2,294.5 1078.3,294.6 1079.3,294.6 1080.4,294.6 1081.4,294.7 1082.5,294.7 1083.6,294.7 1084.6,294.7 1085.7,294.8 1086.7,294.8 1087.8,294.8 1088.8,294.8 1089.9,294.9 1090.9,294.9 1092.0,294.9 1093.0,294.9 1094.1,294.9 1095.1,295.0 1096.2,295.0 1097.3,295.0 1098.3,295.0 1099.4,295.0 1100.4,295.0 1101.5,295.1 1102.5,295.1 1103.6,295.1 1104.6,295.1 1105.7,295.1 1106.7,295.1 1107.8,295.1 1108.8,295.2 1109.9,295.2 1111.0,295.2 1112.0,295.2 1113.1,295.2 1114.1,295.2 1115.2,295.2 1116.2,295.2 1117.3,295.2 1118.3,295.3 1119.4,295.3 1120.4,295.3 1121.5,295.3 1122.5,295.3 1123.6,295.3 1124.7,295.3 1125.7,295.3 1126.8,295.3 1127.8,295.3 1128.9,295.3 1129.9,295.3 1131.0,295.3 1132.0,295.4 1133.1,295.4 1134.1,295.4 1135.2,295.4 1136.3,295.4 1137.3,295.4 1138.4,295.4 1139.4,295.4 1140.5,295.4 1141.5,295.4 1142.6,295.4 1143.6,295.4 1144.7,295.4 1145.7,295.4 1146.8,295.4 1147.8,295.4 1148.9,295.5 1150.0,295.5 1151.0,295.5 1152.1,295.5 1153.1,295.5 1154.2,295.5 1155.2,295.5 1156.3,295.5 1157.3,295.5 1158.4,295.5 1159.4,295.5 1160.5,295.5 1161.5,295.5 1162.6,295.5 1163.7,295.5 1164.7,295.5 1165.8,295.5 1166.8,295.5 1167.9,295.5 1168.9,295.5 1170.0,295.5 1171.0,295.5 1172.1,295.5 1173.1,295.5 1174.2,295.5 1175.2,295.5 1176.3,295.6 1177.4,295.6 1178.4,295.6 1179.5,295.6 1180.5,295.6 1181.6,295.6 1182.6,295.6 1183.7,295.6 1184.7,295.6 1185.8,295.6 1186.8,295.6 1187.9,295.6 1189.0,295.6 1190.0,295.6 1191.1,295.6 1192.1,295.6 1193.2,295.6 1194.2,295.6 1195.3,295.6 1196.3,295.6 1197.4,295.6 1198.4,295.6 1199.5,295.6 1200.5,295.6 1201.6,295.6 1202.7,295.6 1203.7,295.6 1204.8,295.6 1205.8,295.6 1206.9,295.6 1207.9,295.6 1209.0,295.6 1210.0,295.6 1211.1,295.6 1212.1,295.6 1213.2,295.6 1214.2,295.6 1215.3,295.6 1216.4,295.6 1217.4,295.6 1218.5,295.6 1219.5,295.6 1220.6,295.6 1221.6,295.6 1222.7,295.6 1223.7,295.6 1224.8,295.6 1225.8,295.6 1226.9,295.6 1228.0,295.7 1229.0,295.7 1230.1,295.7 1231.1,295.7 1232.2,295.7 1233.2,295.7 1234.3,295.7 1235.3,295.7 1236.4,295.7 1237.4,295.7 1238.5,295.7 1239.5,295.7 1240.6,295.7 1241.7,295.7 1242.7,295.7 1243.8,295.7"/><polyline clip-path="url(#cp827)" stroke="#3049a8" points="885.4,291.1 886.5,290.7 887.5,290.3 888.6,289.9 889.6,289.4 890.7,288.8 891.7,288.2 892.8,287.5 893.8,286.8 894.9,285.9 895.9,284.9 897.0,283.8 898.0,282.5 899.1,281.1 900.2,279.5 901.2,277.7 902.3,275.7 903.3,273.4 904.4,270.8 905.4,267.9 906.5,264.8 907.5,261.4 908.6,257.8 909.6,254.2 910.7,250.6 911.8,247.3 912.8,244.5 913.9,242.4 914.9,241.3 916.0,241.1 917.0,241.8 918.1,243.1 919.1,245.0 920.2,247.4 921.2,250.1 922.3,252.9 923.3,255.8 924.4,258.7 925.5,261.5 926.5,264.2 927.6,266.7 928.6,269.0 929.7,271.2 930.7,273.1 931.8,274.9 932.8,276.5 933.9,278.0 934.9,279.3 936.0,280.5 937.0,281.6 938.1,282.6 939.2,283.5 940.2,284.3 941.3,285.1 942.3,285.8 943.4,286.4 944.4,287.0 945.5,287.5 946.5,288.0 947.6,288.4 948.6,288.8 949.7,289.2 950.7,289.6 951.8,289.9 952.9,290.2 953.9,290.5 955.0,290.7 956.0,291.0 957.1,291.2 958.1,291.4 959.2,291.6 960.2,291.8 961.3,292.0 962.3,292.1 963.4,292.3 964.4,292.4 965.5,292.6 966.6,292.7 967.6,292.8 968.7,292.9 969.7,293.0 970.8,293.1 971.8,293.2 972.9,293.3 973.9,293.4 975.0,293.5 976.0,293.6 977.1,293.6 978.2,293.7 979.2,293.8 980.3,293.8 981.3,293.9 982.4,294.0 983.4,294.0 984.5,294.1 985.5,294.1 986.6,294.2 987.6,294.2 988.7,294.3 989.7,294.3 990.8,294.3 991.9,294.4 992.9,294.4 994.0,294.5 995.0,294.5 996.1,294.5 997.1,294.6 998.2,294.6 999.2,294.6 1000.3,294.7 1001.3,294.7 1002.4,294.7 1003.4,294.7 1004.5,294.8 1005.6,294.8 1006.6,294.8 1007.7,294.8 1008.7,294.9 1009.8,294.9 1010.8,294.9 1011.9,294.9 1012.9,294.9 1014.0,295.0 1015.0,295.0 1016.1,295.0 1017.1,295.0 1018.2,295.0 1019.3,295.0 1020.3,295.1 1021.4,295.1 1022.4,295.1 1023.5,295.1 1024.5,295.1 1025.6,295.1 1026.6,295.1 1027.7,295.1 1028.7,295.2 1029.8,295.2 1030.9,295.2 1031.9,295.2 1033.0,295.2 1034.0,295.2 1035.1,295.2 1036.1,295.2 1037.2,295.2 1038.2,295.3 1039.3,295.3 1040.3,295.3 1041.4,295.3 1042.4,295.3 1043.5,295.3 1044.6,295.3 1045.6,295.3 1046.7,295.3 1047.7,295.3 1048.8,295.3 1049.8,295.3 1050.9,295.4 1051.9,295.4 1053.0,295.4 1054.0,295.4 1055.1,295.4 1056.1,295.4 1057.2,295.4 1058.3,295.4 1059.3,295.4 1060.4,295.4 1061.4,295.4 1062.5,295.4 1063.5,295.4 1064.6,295.4 1065.6,295.4 1066.7,295.4 1067.7,295.4 1068.8,295.5 1069.8,295.5 1070.9,295.5 1072.0,295.5 1073.0,295.5 1074.1,295.5 1075.1,295.5 1076.2,295.5 1077.2,295.5 1078.3,295.5 1079.3,295.5 1080.4,295.5 1081.4,295.5 1082.5,295.5 1083.6,295.5 1084.6,295.5 1085.7,295.5 1086.7,295.5 1087.8,295.5 1088.8,295.5 1089.9,295.5 1090.9,295.5 1092.0,295.5 1093.0,295.5 1094.1,295.5 1095.1,295.6 1096.2,295.6 1097.3,295.6 1098.3,295.6 1099.4,295.6 1100.4,295.6 1101.5,295.6 1102.5,295.6 1103.6,295.6 1104.6,295.6 1105.7,295.6 1106.7,295.6 1107.8,295.6 1108.8,295.6 1109.9,295.6 1111.0,295.6 1112.0,295.6 1113.1,295.6 1114.1,295.6 1115.2,295.6 1116.2,295.6 1117.3,295.6 1118.3,295.6 1119.4,295.6 1120.4,295.6 1121.5,295.6 1122.5,295.6 1123.6,295.6 1124.7,295.6 1125.7,295.6 1126.8,295.6 1127.8,295.6 1128.9,295.6 1129.9,295.6 1131.0,295.6 1132.0,295.6 1133.1,295.6 1134.1,295.6 1135.2,295.6 1136.3,295.6 1137.3,295.6 1138.4,295.6 1139.4,295.6 1140.5,295.6 1141.5,295.6 1142.6,295.6 1143.6,295.6 1144.7,295.6 1145.7,295.6 1146.8,295.7 1147.8,295.7 1148.9,295.7 1150.0,295.7 1151.0,295.7 1152.1,295.7 1153.1,295.7 1154.2,295.7 1155.2,295.7 1156.3,295.7 1157.3,295.7 1158.4,295.7 1159.4,295.7 1160.5,295.7 1161.5,295.7 1162.6,295.7 1163.7,295.7 1164.7,295.7 1165.8,295.7 1166.8,295.7 1167.9,295.7 1168.9,295.7 1170.0,295.7 1171.0,295.7 1172.1,295.7 1173.1,295.7 1174.2,295.7 1175.2,295.7 1176.3,295.7 1177.4,295.7 1178.4,295.7 1179.5,295.7 1180.5,295.7 1181.6,295.7 1182.6,295.7 1183.7,295.7 1184.7,295.7 1185.8,295.7 1186.8,295.7 1187.9,295.7 1189.0,295.7 1190.0,295.7 1191.1,295.7 1192.1,295.7 1193.2,295.7 1194.2,295.7 1195.3,295.7 1196.3,295.7 1197.4,295.7 1198.4,295.7 1199.5,295.7 1200.5,295.7 1201.6,295.7 1202.7,295.7 1203.7,295.7 1204.8,295.7 1205.8,295.7 1206.9,295.7 1207.9,295.7 1209.0,295.7 1210.0,295.7 1211.1,295.7 1212.1,295.7 1213.2,295.7 1214.2,295.7 1215.3,295.7 1216.4,295.7 1217.4,295.7 1218.5,295.7 1219.5,295.7 1220.6,295.7 1221.6,295.7 1222.7,295.7 1223.7,295.7 1224.8,295.7 1225.8,295.7 1226.9,295.7 1228.0,295.7 1229.0,295.7 1230.1,295.7 1231.1,295.7 1232.2,295.7 1233.2,295.7 1234.3,295.7 1235.3,295.7 1236.4,295.7 1237.4,295.7 1238.5,295.7 1239.5,295.7 1240.6,295.7 1241.7,295.7 1242.7,295.7 1243.8,295.7"/></g><rect x="885.40" y="29.80" width="358.60" height="266.00" fill="none" stroke="#1a1a1a" stroke-width="1.4"/><line x1="906.48" y1="295.80" x2="906.48" y2="300.30" stroke="#1a1a1a" stroke-width="1.20"/><text x="906.48" y="316.00" font-size="16.50" text-anchor="middle" font-family="'Liberation Serif','Times New Roman',serif" fill="#000">400</text><line x1="959.18" y1="295.80" x2="959.18" y2="300.30" stroke="#1a1a1a" stroke-width="1.20"/><text x="959.18" y="316.00" font-size="16.50" text-anchor="middle" font-family="'Liberation Serif','Times New Roman',serif" fill="#000">450</text><line x1="1011.88" y1="295.80" x2="1011.88" y2="300.30" stroke="#1a1a1a" stroke-width="1.20"/><text x="1011.88" y="316.00" font-size="16.50" text-anchor="middle" font-family="'Liberation Serif','Times New Roman',serif" fill="#000">500</text><line x1="1064.58" y1="295.80" x2="1064.58" y2="300.30" stroke="#1a1a1a" stroke-width="1.20"/><text x="1064.58" y="316.00" font-size="16.50" text-anchor="middle" font-family="'Liberation Serif','Times New Roman',serif" fill="#000">550</text><line x1="1117.28" y1="295.80" x2="1117.28" y2="300.30" stroke="#1a1a1a" stroke-width="1.20"/><text x="1117.28" y="316.00" font-size="16.50" text-anchor="middle" font-family="'Liberation Serif','Times New Roman',serif" fill="#000">600</text><line x1="1169.98" y1="295.80" x2="1169.98" y2="300.30" stroke="#1a1a1a" stroke-width="1.20"/><text x="1169.98" y="316.00" font-size="16.50" text-anchor="middle" font-family="'Liberation Serif','Times New Roman',serif" fill="#000">650</text><line x1="1222.68" y1="295.80" x2="1222.68" y2="300.30" stroke="#1a1a1a" stroke-width="1.20"/><text x="1222.68" y="316.00" font-size="16.50" text-anchor="middle" font-family="'Liberation Serif','Times New Roman',serif" fill="#000">700</text><line x1="880.90" y1="295.80" x2="885.40" y2="295.80" stroke="#1a1a1a" stroke-width="1.20"/><text x="878.40" y="301.40" font-size="16.50" text-anchor="end" font-family="'Liberation Serif','Times New Roman',serif" fill="#000">0.0</text><line x1="880.90" y1="247.70" x2="885.40" y2="247.70" stroke="#1a1a1a" stroke-width="1.20"/><text x="878.40" y="253.30" font-size="16.50" text-anchor="end" font-family="'Liberation Serif','Times New Roman',serif" fill="#000">0.2</text><line x1="880.90" y1="199.60" x2="885.40" y2="199.60" stroke="#1a1a1a" stroke-width="1.20"/><text x="878.40" y="205.20" font-size="16.50" text-anchor="end" font-family="'Liberation Serif','Times New Roman',serif" fill="#000">0.4</text><line x1="880.90" y1="151.50" x2="885.40" y2="151.50" stroke="#1a1a1a" stroke-width="1.20"/><text x="878.40" y="157.10" font-size="16.50" text-anchor="end" font-family="'Liberation Serif','Times New Roman',serif" fill="#000">0.6</text><line x1="880.90" y1="103.40" x2="885.40" y2="103.40" stroke="#1a1a1a" stroke-width="1.20"/><text x="878.40" y="109.00" font-size="16.50" text-anchor="end" font-family="'Liberation Serif','Times New Roman',serif" fill="#000">0.8</text><line x1="880.90" y1="55.30" x2="885.40" y2="55.30" stroke="#1a1a1a" stroke-width="1.20"/><text x="878.40" y="60.90" font-size="16.50" text-anchor="end" font-family="'Liberation Serif','Times New Roman',serif" fill="#000">1.0</text><text x="1064.70" y="336.10" font-size="18.00" text-anchor="middle" font-family="'Liberation Serif','Times New Roman',serif" fill="#000">Wavelength (nm)</text><text x="0.00" y="0.00" font-size="18.50" text-anchor="middle" font-family="'Liberation Serif','Times New Roman',serif" fill="#000" transform="translate(848.90 163.80) rotate(-90)">Scattering Cross-Section (a.u.)</text><line x1="899.40" y1="50.70" x2="917.90" y2="50.70" stroke="#ee1c1c" stroke-width="2.60"/><text x="919.70" y="56.50" font-size="16.2" font-family="'Liberation Serif','Times New Roman',serif" fill="#000">Ring <tspan font-family="'DejaVu Sans',sans-serif" font-size="16">(<tspan font-style="italic">d</tspan><tspan dx="3">=</tspan><tspan dx="3">60/40nm)</tspan></tspan></text><line x1="899.40" y1="69.75" x2="917.90" y2="69.75" stroke="#0f7f2c" stroke-width="2.60"/><text x="919.70" y="75.55" font-size="16.2" font-family="'Liberation Serif','Times New Roman',serif" fill="#000">Ring <tspan font-family="'DejaVu Sans',sans-serif" font-size="16">(<tspan font-style="italic">d</tspan><tspan dx="3">=</tspan><tspan dx="3">60/30nm)</tspan></tspan></text><line x1="899.40" y1="88.80" x2="917.90" y2="88.80" stroke="#3049a8" stroke-width="2.60"/><text x="919.70" y="94.60" font-size="16.2" font-family="'Liberation Serif','Times New Roman',serif" fill="#000">Disk <tspan font-family="'DejaVu Sans',sans-serif" font-size="16">(<tspan font-style="italic">d</tspan><tspan dx="3">=</tspan><tspan dx="3">60nm)</tspan></tspan></text><rect x="90.80" y="10.10" width="685.70" height="625.40" fill="none" stroke="#000" stroke-width="1.5"/><rect x="815.80" y="10.10" width="685.80" height="625.40" fill="none" stroke="#000" stroke-width="1.5"/><line x1="90.80" y1="635.50" x2="90.80" y2="642.50" stroke="#000" stroke-width="1.60"/><text x="90.80" y="667.60" font-size="27.00" text-anchor="middle" font-family="'Liberation Serif','Times New Roman',serif" fill="#000">40</text><line x1="176.51" y1="635.50" x2="176.51" y2="642.50" stroke="#000" stroke-width="1.60"/><text x="176.51" y="667.60" font-size="27.00" text-anchor="middle" font-family="'Liberation Serif','Times New Roman',serif" fill="#000">60</text><line x1="262.23" y1="635.50" x2="262.23" y2="642.50" stroke="#000" stroke-width="1.60"/><text x="262.23" y="667.60" font-size="27.00" text-anchor="middle" font-family="'Liberation Serif','Times New Roman',serif" fill="#000">80</text><line x1="347.94" y1="635.50" x2="347.94" y2="642.50" stroke="#000" stroke-width="1.60"/><text x="347.94" y="667.60" font-size="27.00" text-anchor="middle" font-family="'Liberation Serif','Times New Roman',serif" fill="#000">100</text><line x1="433.65" y1="635.50" x2="433.65" y2="642.50" stroke="#000" stroke-width="1.60"/><text x="433.65" y="667.60" font-size="27.00" text-anchor="middle" font-family="'Liberation Serif','Times New Roman',serif" fill="#000">120</text><line x1="519.36" y1="635.50" x2="519.36" y2="642.50" stroke="#000" stroke-width="1.60"/><text x="519.36" y="667.60" font-size="27.00" text-anchor="middle" font-family="'Liberation Serif','Times New Roman',serif" fill="#000">140</text><line x1="605.07" y1="635.50" x2="605.07" y2="642.50" stroke="#000" stroke-width="1.60"/><text x="605.07" y="667.60" font-size="27.00" text-anchor="middle" font-family="'Liberation Serif','Times New Roman',serif" fill="#000">160</text><line x1="690.79" y1="635.50" x2="690.79" y2="642.50" stroke="#000" stroke-width="1.60"/><text x="690.79" y="667.60" font-size="27.00" text-anchor="middle" font-family="'Liberation Serif','Times New Roman',serif" fill="#000">180</text><line x1="776.50" y1="635.50" x2="776.50" y2="642.50" stroke="#000" stroke-width="1.60"/><text x="776.50" y="667.60" font-size="27.00" text-anchor="middle" font-family="'Liberation Serif','Times New Roman',serif" fill="#000">200</text><line x1="815.80" y1="635.50" x2="815.80" y2="642.50" stroke="#000" stroke-width="1.60"/><text x="815.80" y="667.60" font-size="27.00" text-anchor="middle" font-family="'Liberation Serif','Times New Roman',serif" fill="#000">0</text><line x1="952.96" y1="635.50" x2="952.96" y2="642.50" stroke="#000" stroke-width="1.60"/><text x="952.96" y="667.60" font-size="27.00" text-anchor="middle" font-family="'Liberation Serif','Times New Roman',serif" fill="#000">10</text><line x1="1090.12" y1="635.50" x2="1090.12" y2="642.50" stroke="#000" stroke-width="1.60"/><text x="1090.12" y="667.60" font-size="27.00" text-anchor="middle" font-family="'Liberation Serif','Times New Roman',serif" fill="#000">20</text><line x1="1227.28" y1="635.50" x2="1227.28" y2="642.50" stroke="#000" stroke-width="1.60"/><text x="1227.28" y="667.60" font-size="27.00" text-anchor="middle" font-family="'Liberation Serif','Times New Roman',serif" fill="#000">30</text><line x1="1364.44" y1="635.50" x2="1364.44" y2="642.50" stroke="#000" stroke-width="1.60"/><text x="1364.44" y="667.60" font-size="27.00" text-anchor="middle" font-family="'Liberation Serif','Times New Roman',serif" fill="#000">40</text><line x1="1501.60" y1="635.50" x2="1501.60" y2="642.50" stroke="#000" stroke-width="1.60"/><text x="1501.60" y="667.60" font-size="27.00" text-anchor="middle" font-family="'Liberation Serif','Times New Roman',serif" fill="#000">50</text><line x1="84.30" y1="605.72" x2="90.80" y2="605.72" stroke="#000" stroke-width="1.60"/><text x="77.40" y="615.12" font-size="27.00" text-anchor="end" font-family="'Liberation Serif','Times New Roman',serif" fill="#000">400</text><line x1="809.30" y1="605.72" x2="815.80" y2="605.72" stroke="#000" stroke-width="1.60"/><line x1="84.30" y1="531.27" x2="90.80" y2="531.27" stroke="#000" stroke-width="1.60"/><text x="77.40" y="540.67" font-size="27.00" text-anchor="end" font-family="'Liberation Serif','Times New Roman',serif" fill="#000">450</text><line x1="809.30" y1="531.27" x2="815.80" y2="531.27" stroke="#000" stroke-width="1.60"/><line x1="84.30" y1="456.81" x2="90.80" y2="456.81" stroke="#000" stroke-width="1.60"/><text x="77.40" y="466.21" font-size="27.00" text-anchor="end" font-family="'Liberation Serif','Times New Roman',serif" fill="#000">500</text><line x1="809.30" y1="456.81" x2="815.80" y2="456.81" stroke="#000" stroke-width="1.60"/><line x1="84.30" y1="382.36" x2="90.80" y2="382.36" stroke="#000" stroke-width="1.60"/><text x="77.40" y="391.76" font-size="27.00" text-anchor="end" font-family="'Liberation Serif','Times New Roman',serif" fill="#000">550</text><line x1="809.30" y1="382.36" x2="815.80" y2="382.36" stroke="#000" stroke-width="1.60"/><line x1="84.30" y1="307.91" x2="90.80" y2="307.91" stroke="#000" stroke-width="1.60"/><text x="77.40" y="317.31" font-size="27.00" text-anchor="end" font-family="'Liberation Serif','Times New Roman',serif" fill="#000">600</text><line x1="809.30" y1="307.91" x2="815.80" y2="307.91" stroke="#000" stroke-width="1.60"/><line x1="84.30" y1="233.46" x2="90.80" y2="233.46" stroke="#000" stroke-width="1.60"/><text x="77.40" y="242.86" font-size="27.00" text-anchor="end" font-family="'Liberation Serif','Times New Roman',serif" fill="#000">650</text><line x1="809.30" y1="233.46" x2="815.80" y2="233.46" stroke="#000" stroke-width="1.60"/><line x1="84.30" y1="159.00" x2="90.80" y2="159.00" stroke="#000" stroke-width="1.60"/><text x="77.40" y="168.40" font-size="27.00" text-anchor="end" font-family="'Liberation Serif','Times New Roman',serif" fill="#000">700</text><line x1="809.30" y1="159.00" x2="815.80" y2="159.00" stroke="#000" stroke-width="1.60"/><line x1="84.30" y1="84.55" x2="90.80" y2="84.55" stroke="#000" stroke-width="1.60"/><text x="77.40" y="93.95" font-size="27.00" text-anchor="end" font-family="'Liberation Serif','Times New Roman',serif" fill="#000">750</text><line x1="809.30" y1="84.55" x2="815.80" y2="84.55" stroke="#000" stroke-width="1.60"/><line x1="84.30" y1="10.10" x2="90.80" y2="10.10" stroke="#000" stroke-width="1.60"/><text x="77.40" y="19.50" font-size="27.00" text-anchor="end" font-family="'Liberation Serif','Times New Roman',serif" fill="#000">800</text><line x1="809.30" y1="10.10" x2="815.80" y2="10.10" stroke="#000" stroke-width="1.60"/><text x="433.60" y="701.20" font-size="30.00" text-anchor="middle" font-family="'Liberation Serif','Times New Roman',serif" fill="#000">Disk Diameter (nm)</text><text x="1158.70" y="701.20" font-size="30.00" text-anchor="middle" font-family="'Liberation Serif','Times New Roman',serif" fill="#000">Ring Aperture (nm)</text><text x="0.00" y="0.00" font-size="30.00" text-anchor="middle" font-family="'Liberation Serif','Times New Roman',serif" fill="#000" transform="translate(24.6 322.5) rotate(-90)">Peak Scattering Wavelength (nm)</text><text x="730.50" y="58.30" font-size="43.50" text-anchor="middle" font-family="'Liberation Sans',Arial,sans-serif" fill="#fff" font-weight="bold">(a)</text><text x="1416.10" y="58.30" font-size="43.50" text-anchor="middle" font-family="'Liberation Sans',Arial,sans-serif" fill="#fff" font-weight="bold">(b)</text><rect x="1534" y="10.10" width="31.5" height="625.40" fill="none" stroke="#000" stroke-width="1.4"/><line x1="1565.50" y1="635.50" x2="1572.00" y2="635.50" stroke="#000" stroke-width="1.50"/><text x="1577.80" y="644.70" font-size="27.00" text-anchor="start" font-family="'Liberation Serif','Times New Roman',serif" fill="#000">0.0</text><line x1="1565.50" y1="479.15" x2="1572.00" y2="479.15" stroke="#000" stroke-width="1.50"/><text x="1577.80" y="488.35" font-size="27.00" text-anchor="start" font-family="'Liberation Serif','Times New Roman',serif" fill="#000">0.5</text><line x1="1565.50" y1="322.80" x2="1572.00" y2="322.80" stroke="#000" stroke-width="1.50"/><text x="1577.80" y="332.00" font-size="27.00" text-anchor="start" font-family="'Liberation Serif','Times New Roman',serif" fill="#000">1.0</text><line x1="1565.50" y1="166.45" x2="1572.00" y2="166.45" stroke="#000" stroke-width="1.50"/><text x="1577.80" y="175.65" font-size="27.00" text-anchor="start" font-family="'Liberation Serif','Times New Roman',serif" fill="#000">1.5</text><line x1="1565.50" y1="10.10" x2="1572.00" y2="10.10" stroke="#000" stroke-width="1.50"/><text x="1577.80" y="19.30" font-size="27.00" text-anchor="start" font-family="'Liberation Serif','Times New Roman',serif" fill="#000">2.0</text><text x="1571.6" y="54.4" font-size="22.4" font-family="'DejaVu Sans',sans-serif" fill="#000">×10<tspan font-size="15.4" dx="1" dy="-8.4">−11</tspan></text></svg>
<div style="position:absolute;left:1645.3px;top:9.4px;width:349.0px;height:286.2px;background:#2c0e0f;overflow:hidden">
<div style="position:absolute;left:0;top:0;width:100%;height:100%;background:radial-gradient(ellipse 200px 160px at 181.7px 142.4px, #3a1012 0%, rgba(44,14,15,0) 100%)"></div>
<div style="position:absolute;left:0;top:0;width:100%;height:100%;background:radial-gradient(ellipse 108px 98px at 181.7px 142.4px, #f5601c 0%, #f86a20 57%, #f84a20 60%, #f02c20 64%, #e02220 69%, #b81c1a 76%, #7e1414 84%, #521111 92%, rgba(44,14,15,0) 100%);-webkit-mask-image:conic-gradient(from 0deg at 181.7px 142.4px, rgba(0,0,0,.2) 0deg, rgba(0,0,0,.8) 20deg, #000 40deg, #000 140deg, rgba(0,0,0,.8) 160deg, rgba(0,0,0,.2) 180deg, rgba(0,0,0,.8) 200deg, #000 220deg, #000 320deg, rgba(0,0,0,.8) 340deg, rgba(0,0,0,.2) 360deg);mask-image:conic-gradient(from 0deg at 181.7px 142.4px, rgba(0,0,0,.2) 0deg, rgba(0,0,0,.8) 20deg, #000 40deg, #000 140deg, rgba(0,0,0,.8) 160deg, rgba(0,0,0,.2) 180deg, rgba(0,0,0,.8) 200deg, #000 220deg, #000 320deg, rgba(0,0,0,.8) 340deg, rgba(0,0,0,.2) 360deg)"></div>
<div style="position:absolute;left:120.2px;top:81.4px;width:123px;height:122px;border-radius:50%;background:radial-gradient(circle at 50% 50%, #5e1010 0%, #580f0f 60%, #4a0e0e 90%, #3e0c0c 97%, #6a1010 100%)"></div>
</div>
<div style="position:absolute;left:1645.3px;top:315.0px;width:349.0px;height:286.0px;background:#2c0e0f;overflow:hidden">
<div style="position:absolute;left:0;top:0;width:100%;height:100%;background:radial-gradient(ellipse 82px 64px at 182.2px 141.6px, #fffdf8 0%, #fffcf0 22%, #fff6d0 30%, #fcec40 37%, #fbdc10 42%, #f7a020 48%, #f06020 54%, #e8261f 60%, #d41e1c 70%, #9a1616 80%, #5a1111 90%, rgba(44,14,15,0) 100%)"></div>
</div>
<svg width="1996" height="710" style="position:absolute;left:0;top:0"><defs><radialGradient id="crg" gradientUnits="userSpaceOnUse" cx="1827.5" cy="459.6" r="27"><stop offset="0.62" stop-color="#e83020"/><stop offset="0.78" stop-color="#9a1010"/><stop offset="0.9" stop-color="#c01818"/><stop offset="1" stop-color="#f06020"/></radialGradient></defs><path d="M1807.20 442.57A26.50 26.50 0 0 0 1807.20 476.63L1814.09 470.85A17.50 17.50 0 0 1 1814.09 448.35Z" fill="url(#crg)"/><path d="M1847.80 476.63A26.50 26.50 0 0 0 1847.80 442.57L1840.91 448.35A17.50 17.50 0 0 1 1840.91 470.85Z" fill="url(#crg)"/><ellipse cx="1827.5" cy="459.1" rx="16" ry="19" fill="#fbf6f4"/><polyline fill="none" stroke="#eaeaea" stroke-width="2.8" stroke-linejoin="round" points="1653.4,145.2 1670.0,143.6 1687.2,141.4 1700.0,138.6 1708.4,136.1 1720.0,131.0 1729.5,125.7 1736.0,120.2 1740.0,115.6 1746.0,107.6 1750.6,98.7 1754.0,90.5 1757.0,81.8 1759.0,72.5 1760.5,63.0 1761.5,51.6 1764.3,51.6 1764.6,136.5 1768.5,138.6 1768.5,138.6 1773.6,137.5 1778.7,136.5 1783.8,135.6 1788.9,134.9 1794.0,134.2 1799.2,133.6 1804.3,133.1 1809.4,132.7 1814.5,132.4 1819.6,132.2 1824.7,132.1 1829.8,132.1 1834.9,132.2 1840.0,132.4 1845.1,132.7 1850.2,133.1 1855.3,133.6 1860.5,134.2 1865.6,134.9 1870.7,135.7 1875.8,136.5 1880.9,137.5 1886.0,138.6 1886.0,138.6 1889.9,136.5 1890.2,51.6 1893.0,51.6 1894.2,63.0 1895.8,72.5 1897.6,81.8 1901.0,92.0 1905.0,101.0 1910.0,108.5 1914.5,113.5 1920.0,118.3 1935.6,127.6 1950.0,133.3 1970.0,139.2 1993.5,144.6"/><polyline fill="none" stroke="#eaeaea" stroke-width="1.4" points="1752.1,99.7 1755.5,91.5 1758.5,82.8 1760.5,73.5 1762.0,64.0 1763.0,52.6"/><polyline fill="none" stroke="#eaeaea" stroke-width="1.4" points="1891.5,52.6 1892.7,64.0 1894.3,73.5 1896.1,82.8 1899.5,93.0 1903.5,102.0"/><polyline fill="none" stroke="#eaeaea" stroke-width="2.8" stroke-linejoin="round" points="1654.5,452.8 1700.0,452.0 1730.0,450.5 1750.0,448.0 1762.3,445.5 1770.0,441.5 1776.3,434.2 1782.0,427.0 1787.6,417.3 1791.5,408.0 1794.6,397.6 1797.0,386.0 1798.9,372.3 1800.2,357.0 1803.2,357.0 1804.2,441.3 1806.5,443.5 1808.3,441.3 1809.3,361.0 1812.3,361.0 1815.0,366.0 1818.0,372.0 1821.0,377.0 1824.0,380.5 1827.5,382.0 1831.0,380.5 1834.0,377.0 1837.0,372.0 1840.0,366.0 1842.7,361.0 1845.7,361.0 1846.7,441.3 1848.5,443.5 1850.8,441.3 1851.8,357.0 1854.8,357.0 1856.1,372.3 1858.0,386.0 1860.4,397.6 1863.5,408.0 1867.4,417.3 1873.0,427.0 1878.7,434.2 1885.0,441.5 1892.7,445.5 1905.0,448.0 1925.0,450.5 1955.0,452.0 2000.5,452.8"/><polyline fill="none" stroke="#eaeaea" stroke-width="1.4" points="1789.2,417.8 1793.1,408.5 1796.2,398.1 1798.6,386.5 1800.5,372.8 1801.8,357.5"/><polyline fill="none" stroke="#eaeaea" stroke-width="1.4" points="1865.8,417.8 1861.9,408.5 1858.8,398.1 1856.4,386.5 1854.5,372.8 1853.2,357.5"/><text x="1679.1" y="58.3" font-family="'Liberation Sans',Arial,sans-serif" font-weight="bold" font-size="43.5" fill="#fff" text-anchor="middle">(c)</text><text x="1680.2" y="369.7" font-family="'Liberation Sans',Arial,sans-serif" font-weight="bold" font-size="43.5" fill="#fff" text-anchor="middle">(d)</text><text x="1880.6" y="212.6" font-family="'Liberation Serif','Times New Roman',serif" font-size="22.7" fill="#fff"><tspan font-style="italic">Ex</tspan> (1V/m)</text><circle cx="1882.2" cy="231.7" r="5.4" fill="#fff"/><line x1="1882" y1="231.7" x2="1981" y2="231.7" stroke="#fff" stroke-width="2"/><polyline fill="none" stroke="#fff" stroke-width="2" points="1972,226.8 1982.2,231.7 1972,236.6"/><text x="1727.8" y="262.7" text-anchor="middle" font-family="'Liberation Serif','Times New Roman',serif" font-size="22.7" fill="#fff">Red Disk</text><text x="1727.8" y="290.4" text-anchor="middle" font-family="'Liberation Serif','Times New Roman',serif" font-size="22.7" fill="#fff">(<tspan font-style="italic">d</tspan> = 160 nm)</text><text x="1944.4" y="267.8" text-anchor="middle" font-family="'Liberation Serif','Times New Roman',serif" font-size="22.7" fill="#fff">100 nm</text><rect x="1901.8" y="273.8" width="77.5" height="8.2" fill="#fff"/><text x="1742.8" y="568.2" text-anchor="middle" font-family="'Liberation Serif','Times New Roman',serif" font-size="22.7" fill="#fff">Red Ring</text><text x="1742.3" y="596.6" text-anchor="middle" font-family="'Liberation Serif','Times New Roman',serif" font-size="22.7" fill="#fff">(<tspan font-style="italic">d</tspan> = 60 / 40 nm)</text><text x="1944.4" y="573.0" text-anchor="middle" font-family="'Liberation Serif','Times New Roman',serif" font-size="22.7" fill="#fff">100 nm</text><rect x="1901.9" y="580" width="77.1" height="7.5" fill="#fff"/><defs><linearGradient id="hot" x1="0" x2="1" y1="0" y2="0"><stop offset="0" stop-color="#000"/><stop offset="0.04" stop-color="#120404"/><stop offset="0.1" stop-color="#5a0a0a"/><stop offset="0.2" stop-color="#b8161c"/><stop offset="0.26" stop-color="#e8202a"/><stop offset="0.33" stop-color="#e82a26"/><stop offset="0.42" stop-color="#ee5024"/><stop offset="0.5" stop-color="#f5821e"/><stop offset="0.6" stop-color="#fbc010"/><stop offset="0.65" stop-color="#fde600"/><stop offset="0.72" stop-color="#f8ea30"/><stop offset="0.82" stop-color="#f6ee80"/><stop offset="0.92" stop-color="#faf6c8"/><stop offset="1" stop-color="#fffffa"/></linearGradient></defs><rect x="1662.3" y="623.2" width="330" height="20.8" fill="url(#hot)" stroke="#333" stroke-width="1.2"/><line x1="1695.3" y1="623.2" x2="1695.3" y2="627.5" stroke="#333" stroke-width="1"/><line x1="1695.3" y1="644" x2="1695.3" y2="639.7" stroke="#333" stroke-width="1"/><line x1="1728.3" y1="623.2" x2="1728.3" y2="627.5" stroke="#333" stroke-width="1"/><line x1="1728.3" y1="644" x2="1728.3" y2="639.7" stroke="#333" stroke-width="1"/><line x1="1761.3" y1="623.2" x2="1761.3" y2="627.5" stroke="#333" stroke-width="1"/><line x1="1761.3" y1="644" x2="1761.3" y2="639.7" stroke="#333" stroke-width="1"/><line x1="1794.3" y1="623.2" x2="1794.3" y2="627.5" stroke="#333" stroke-width="1"/><line x1="1794.3" y1="644" x2="1794.3" y2="639.7" stroke="#333" stroke-width="1"/><line x1="1827.3" y1="623.2" x2="1827.3" y2="627.5" stroke="#333" stroke-width="1"/><line x1="1827.3" y1="644" x2="1827.3" y2="639.7" stroke="#333" stroke-width="1"/><line x1="1860.3" y1="623.2" x2="1860.3" y2="627.5" stroke="#333" stroke-width="1"/><line x1="1860.3" y1="644" x2="1860.3" y2="639.7" stroke="#333" stroke-width="1"/><line x1="1893.3" y1="623.2" x2="1893.3" y2="627.5" stroke="#333" stroke-width="1"/><line x1="1893.3" y1="644" x2="1893.3" y2="639.7" stroke="#333" stroke-width="1"/><line x1="1926.3" y1="623.2" x2="1926.3" y2="627.5" stroke="#333" stroke-width="1"/><line x1="1926.3" y1="644" x2="1926.3" y2="639.7" stroke="#333" stroke-width="1"/><line x1="1959.3" y1="623.2" x2="1959.3" y2="627.5" stroke="#333" stroke-width="1"/><line x1="1959.3" y1="644" x2="1959.3" y2="639.7" stroke="#333" stroke-width="1"/><text x="1665.8" y="668.0" text-anchor="middle" font-family="'Liberation Serif','Times New Roman',serif" font-size="29" fill="#000">0</text><text x="1981.3" y="668.0" text-anchor="middle" font-family="'Liberation Serif','Times New Roman',serif" font-size="29" fill="#000">20</text></svg>
</div></body></html>
